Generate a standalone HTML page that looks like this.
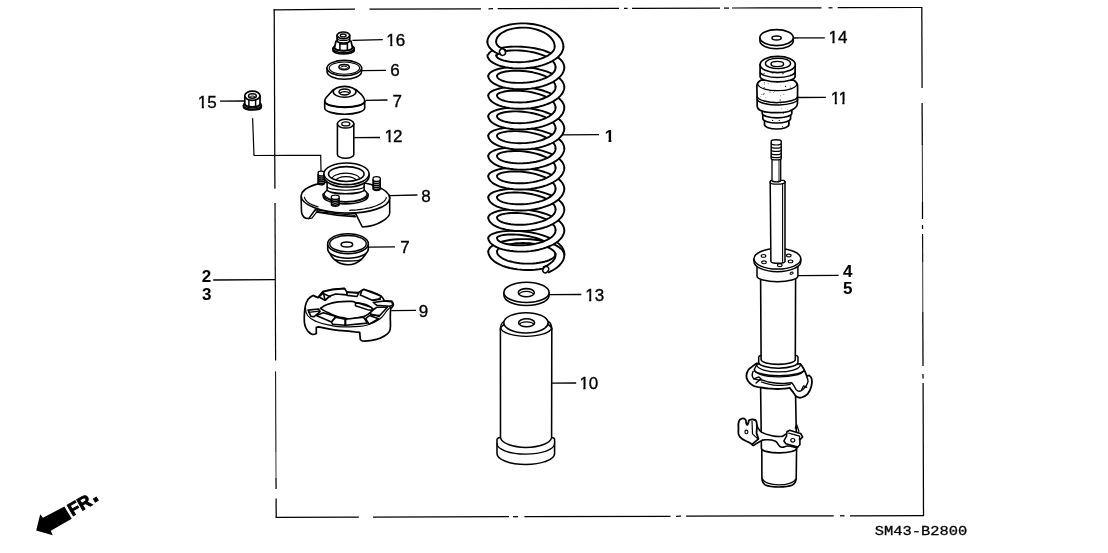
<!DOCTYPE html>
<html><head><meta charset="utf-8"><title>SM43-B2800</title>
<style>html,body{margin:0;padding:0;background:#fff;}svg{display:block;will-change:transform;}</style>
</head><body>
<svg width="1108" height="553" viewBox="0 0 1108 553">
<rect width="1108" height="553" fill="#fff"/>
<g id="frame"><line x1="273.6" y1="9.9" x2="355.0" y2="9.2" stroke="#000" stroke-width="1.25"/>
<line x1="369.5" y1="9.1" x2="481.0" y2="8.8" stroke="#000" stroke-width="1.25"/>
<line x1="488.5" y1="8.8" x2="493.0" y2="8.7" stroke="#000" stroke-width="1.25"/>
<line x1="497.7" y1="8.7" x2="619.0" y2="8.4" stroke="#000" stroke-width="1.25"/>
<line x1="624.0" y1="8.4" x2="627.6" y2="8.3" stroke="#000" stroke-width="1.25"/>
<line x1="632.0" y1="8.3" x2="720.0" y2="8.1" stroke="#000" stroke-width="1.25"/>
<line x1="724.0" y1="8.1" x2="729.0" y2="8.1" stroke="#000" stroke-width="1.25"/>
<line x1="732.0" y1="8.0" x2="821.5" y2="7.8" stroke="#000" stroke-width="1.25"/>
<line x1="828.5" y1="7.8" x2="832.5" y2="7.8" stroke="#000" stroke-width="1.25"/>
<line x1="837.7" y1="7.7" x2="922.3" y2="7.5" stroke="#000" stroke-width="1.25"/>
<line x1="921.8" y1="7.5" x2="922.1" y2="88.0" stroke="#000" stroke-width="1.25"/>
<line x1="922.1" y1="103.0" x2="922.3" y2="145.0" stroke="#000" stroke-width="1.25"/>
<line x1="922.3" y1="145.0" x2="922.5" y2="202.0" stroke="#000" stroke-width="0.85"/>
<line x1="922.5" y1="202.0" x2="922.5" y2="219.0" stroke="#000" stroke-width="1.25"/>
<line x1="922.5" y1="225.0" x2="922.5" y2="229.0" stroke="#000" stroke-width="1.25"/>
<line x1="922.6" y1="234.0" x2="922.7" y2="262.0" stroke="#000" stroke-width="1.1"/>
<line x1="922.7" y1="262.0" x2="922.8" y2="312.0" stroke="#000" stroke-width="0.8"/>
<line x1="922.8" y1="312.0" x2="923.0" y2="366.0" stroke="#000" stroke-width="1.25"/>
<line x1="923.0" y1="374.0" x2="923.0" y2="378.5" stroke="#000" stroke-width="1.25"/>
<line x1="923.1" y1="383.0" x2="923.5" y2="516.0" stroke="#000" stroke-width="1.25"/>
<line x1="275.6" y1="517.3" x2="358.8" y2="517.1" stroke="#000" stroke-width="1.25"/>
<line x1="373.0" y1="517.0" x2="509.0" y2="516.7" stroke="#000" stroke-width="1.25"/>
<line x1="513.0" y1="516.7" x2="518.0" y2="516.7" stroke="#000" stroke-width="1.25"/>
<line x1="524.4" y1="516.6" x2="670.5" y2="516.3" stroke="#000" stroke-width="1.25"/>
<line x1="676.0" y1="516.3" x2="681.0" y2="516.2" stroke="#000" stroke-width="1.25"/>
<line x1="686.0" y1="516.2" x2="833.7" y2="515.8" stroke="#000" stroke-width="1.25"/>
<line x1="840.0" y1="515.8" x2="844.5" y2="515.8" stroke="#000" stroke-width="1.25"/>
<line x1="850.0" y1="515.8" x2="924.0" y2="515.6" stroke="#000" stroke-width="1.25"/>
<line x1="274.2" y1="9.3" x2="274.9" y2="188.7" stroke="#000" stroke-width="1.25"/>
<line x1="275.0" y1="203.0" x2="275.6" y2="360.5" stroke="#000" stroke-width="1.2"/>
<line x1="275.6" y1="371.4" x2="275.9" y2="452.0" stroke="#000" stroke-width="1.0"/>
<line x1="275.9" y1="452.0" x2="276.0" y2="478.0" stroke="#000" stroke-width="0.8"/>
<line x1="276.0" y1="478.0" x2="276.1" y2="489.0" stroke="#000" stroke-width="1.25"/>
<line x1="276.1" y1="498.4" x2="276.2" y2="517.6" stroke="#000" stroke-width="1.25"/></g>
<g id="labels" font-family="'Liberation Sans', Arial, Helvetica, sans-serif" fill="#000" stroke="#000" stroke-width="0.35" opacity="0.999"><clipPath id="lc1"><rect x="384.30" y="28.80" width="22.91" height="14.42"/><rect x="390.27" y="42.32" width="2.10" height="4.47"/><rect x="396.36" y="42.32" width="11.46" height="5.47"/></clipPath><text x="386.3" y="45.8" font-size="17" font-weight="normal" clip-path="url(#lc1)">16</text>
<text x="390.3" y="76.4" font-size="17" font-weight="normal">6</text>
<text x="392.5" y="106.9" font-size="17" font-weight="normal">7</text>
<clipPath id="lc2"><rect x="382.60" y="125.10" width="20.91" height="14.42"/><rect x="388.57" y="138.62" width="2.10" height="4.47"/><rect x="393.66" y="138.62" width="10.46" height="5.47"/></clipPath><text x="384.59999999999997" y="142.1" font-size="17" font-weight="normal" letter-spacing="-1.0" clip-path="url(#lc2)">12</text>
<text x="421.3" y="201.6" font-size="17" font-weight="normal">8</text>
<text x="400.2" y="252.6" font-size="17" font-weight="normal">7</text>
<text x="418.8" y="316.8" font-size="17" font-weight="normal">9</text>
<clipPath id="lc3"><rect x="195.80" y="91.10" width="22.91" height="14.42"/><rect x="201.77" y="104.62" width="2.10" height="4.47"/><rect x="207.86" y="104.62" width="11.46" height="5.47"/></clipPath><text x="197.8" y="108.1" font-size="17" font-weight="normal" clip-path="url(#lc3)">15</text>
<text x="201.7" y="281.7" font-size="17" font-weight="bold" stroke-width="0.05">2</text>
<text x="201.9" y="300.1" font-size="17" font-weight="bold" stroke-width="0.05">3</text>
<clipPath id="lc4"><rect x="602.80" y="124.80" width="13.46" height="13.91"/><rect x="608.46" y="137.82" width="2.93" height="4.99"/></clipPath><text x="604.8" y="141.8" font-size="17" font-weight="bold" stroke-width="0.05" clip-path="url(#lc4)">1</text>
<clipPath id="lc5"><rect x="583.20" y="284.20" width="22.91" height="14.42"/><rect x="589.17" y="297.73" width="2.10" height="4.47"/><rect x="595.26" y="297.73" width="11.46" height="5.47"/></clipPath><text x="585.2" y="301.2" font-size="17" font-weight="normal" clip-path="url(#lc5)">13</text>
<clipPath id="lc6"><rect x="577.40" y="372.20" width="22.91" height="14.42"/><rect x="583.37" y="385.73" width="2.10" height="4.47"/><rect x="589.46" y="385.73" width="11.46" height="5.47"/></clipPath><text x="579.4" y="389.2" font-size="17" font-weight="normal" clip-path="url(#lc6)">10</text>
<clipPath id="lc7"><rect x="826.50" y="26.40" width="22.91" height="14.42"/><rect x="832.47" y="39.92" width="2.10" height="4.47"/><rect x="838.56" y="39.92" width="11.46" height="5.47"/></clipPath><text x="828.5" y="43.4" font-size="17" font-weight="normal" clip-path="url(#lc7)">14</text>
<clipPath id="lc8"><rect x="828.80" y="86.90" width="19.19" height="14.42"/><rect x="834.77" y="100.42" width="2.10" height="4.47"/><rect x="842.36" y="100.42" width="2.10" height="4.47"/></clipPath><text x="830.8000000000001" y="103.9" font-size="17" font-weight="normal" letter-spacing="-0.6" clip-path="url(#lc8)">11</text>
<text x="842.9" y="276.6" font-size="17" font-weight="bold" stroke-width="0.05">4</text>
<text x="842.9" y="293.7" font-size="17" font-weight="bold" stroke-width="0.05">5</text></g>
<g id="leaders"><line x1="352.4" y1="40.3" x2="382.8" y2="39.6" stroke="#000" stroke-width="1.3"/>
<line x1="362.0" y1="70.6" x2="386.0" y2="70.3" stroke="#000" stroke-width="1.3"/>
<line x1="365.5" y1="100.3" x2="387.5" y2="100.0" stroke="#000" stroke-width="1.3"/>
<line x1="354.3" y1="137.7" x2="380.0" y2="137.5" stroke="#000" stroke-width="1.3"/>
<line x1="389.9" y1="195.7" x2="417.4" y2="195.0" stroke="#000" stroke-width="1.3"/>
<line x1="369.0" y1="247.1" x2="395.0" y2="246.9" stroke="#000" stroke-width="1.3"/>
<line x1="391.3" y1="310.6" x2="416.0" y2="310.4" stroke="#000" stroke-width="1.3"/>
<line x1="220.0" y1="101.2" x2="244.0" y2="101.0" stroke="#000" stroke-width="1.3"/>
<line x1="213.2" y1="280.0" x2="275.0" y2="279.7" stroke="#000" stroke-width="1.3"/>
<line x1="561.7" y1="134.9" x2="599.0" y2="134.7" stroke="#000" stroke-width="1.3"/>
<line x1="549.5" y1="294.7" x2="581.3" y2="294.5" stroke="#000" stroke-width="1.3"/>
<line x1="551.6" y1="383.2" x2="576.2" y2="383.0" stroke="#000" stroke-width="1.3"/>
<line x1="794.0" y1="38.0" x2="824.8" y2="37.8" stroke="#000" stroke-width="1.3"/>
<line x1="797.9" y1="97.5" x2="825.9" y2="97.3" stroke="#000" stroke-width="1.3"/>
<line x1="797.5" y1="275.6" x2="838.6" y2="275.4" stroke="#000" stroke-width="1.3"/>
<polyline points="252.6,118.3 254,155.5 320.7,155.3 321,171" fill="none" stroke="#000" stroke-width="1.2"/></g>
<g id="fr"><polygon points="36.2,530.5 40.2,514.3 42.9,517.8 64.4,506.4 71.7,518.8 50.8,530.8 52.7,535.2" fill="#000"/><text transform="translate(72.3,516.6) rotate(-30)" font-family="'Liberation Sans', Arial, sans-serif" font-weight="bold" font-size="18" fill="#000" stroke="#000" stroke-width="0.9">FR<tspan dy="-1.2" dx="1.4" font-size="25">.</tspan></text></g>
<text x="874.7" y="535.4" font-family="'Liberation Mono', 'Courier New', monospace" font-size="13.4" textLength="92.5" lengthAdjust="spacingAndGlyphs" fill="#000" stroke="#000" stroke-width="0.3">SM43-B2800</text>
<g id="p6"><path d="M327.0,68.1 L327.0,71.5 A17.3,7.7 0 0 0 361.6,71.5 L361.6,68.1 Z" fill="#fff" stroke="#000" stroke-width="1.55" stroke-linejoin="round" stroke-linecap="round" /><ellipse cx="344.3" cy="68.1" rx="17.3" ry="7.7" fill="#fff" stroke="#000" stroke-width="1.55" /><ellipse cx="344.4" cy="68.1" rx="15.2" ry="6.1" fill="#fff" stroke="#000" stroke-width="1.1" /><ellipse cx="344.1" cy="67.1" rx="5.2" ry="2.7" fill="#fff" stroke="#000" stroke-width="1.55" /><ellipse cx="344.1" cy="67.6" rx="3.3" ry="1.5" fill="#fff" stroke="#000" stroke-width="1.0" /></g>
<g id="p16"><path d="M333.0,48.6 L333.0,50.6 A10.6,3.4 0 0 0 354.2,50.6 L354.2,48.6 Z" fill="#fff" stroke="#000" stroke-width="1.7" stroke-linejoin="round" stroke-linecap="round" /><ellipse cx="343.6" cy="48.6" rx="10.6" ry="4.2" fill="#fff" stroke="#000" stroke-width="1.7" /><path d="M334.2,47.6 A9.4,3.4 0 0 0 353.0,47.6" fill="none" stroke="#000" stroke-width="1.3" stroke-linejoin="round" stroke-linecap="round" /><path d="M334.6,47.6 L336.0,41.0 L351.0,41.0 L352.4,47.6 A8.9,3.0 0 0 1 334.6,47.6 Z" fill="#fff" stroke="#000" stroke-width="1.7" stroke-linejoin="round" stroke-linecap="round" /><path d="M339.9,43.0 L339.9,50.4 M347.4,43.0 L347.4,50.4" fill="none" stroke="#000" stroke-width="1.5" stroke-linejoin="round" stroke-linecap="round" /><path d="M339.9,44.0 L347.4,44.0" fill="none" stroke="#000" stroke-width="1.4" stroke-linejoin="round" stroke-linecap="round" /><path d="M337.1,35.3 L337.1,40.6 A6.3,2.4 0 0 0 349.7,40.6 L349.7,35.3 Z" fill="#fff" stroke="#000" stroke-width="1.7" stroke-linejoin="round" stroke-linecap="round" /><path d="M337.1,38.2 A6.3,2.2 0 0 0 349.7,38.2" fill="none" stroke="#000" stroke-width="1.2" stroke-linejoin="round" stroke-linecap="round" /><ellipse cx="343.4" cy="35.3" rx="6.3" ry="3.3" fill="#fff" stroke="#000" stroke-width="1.7" /><ellipse cx="343.2" cy="35.4" rx="2.9" ry="1.4" fill="#fff" stroke="#000" stroke-width="1.3" /></g>
<g id="p7a"><path d="M324.7,101.0 L324.7,108.0 A20.0,6.2 0 0 0 364.7,108.0 L364.7,101.0 Z" fill="#fff" stroke="#000" stroke-width="1.6" stroke-linejoin="round" stroke-linecap="round" /><path d="M324.7,101.4 C324.7,99.6 325.2,98.6 326.4,97.2 L333.4,89.6 L356.0,89.6 L362.0,95.2 C363.8,97.2 364.7,99.0 364.7,101.4 A20.0,6.0 0 0 1 324.7,101.4 Z" fill="#fff" stroke="#000" stroke-width="1.6" stroke-linejoin="round" stroke-linecap="round" /><path d="M324.7,101.0 A20.0,6.0 0 0 0 364.7,101.0" fill="none" stroke="#000" stroke-width="1.5" stroke-linejoin="round" stroke-linecap="round" /><ellipse cx="344.6" cy="91.8" rx="11.4" ry="5.4" fill="#fff" stroke="#000" stroke-width="1.6" /><ellipse cx="344.6" cy="91.9" rx="5.6" ry="3.0" fill="#fff" stroke="#000" stroke-width="1.5" /><path d="M340.4,93.0 A4.4,1.7 0 0 1 349.0,93.0" fill="none" stroke="#000" stroke-width="1.2" stroke-linejoin="round" stroke-linecap="round" /></g>
<g id="p12"><path d="M337.4,123.7 L337.4,154.4 A8.2,3.8 0 0 0 353.8,154.4 L353.8,123.7 Z" fill="#fff" stroke="#000" stroke-width="1.55" stroke-linejoin="round" stroke-linecap="round" /><ellipse cx="345.6" cy="123.7" rx="8.2" ry="4.4" fill="#fff" stroke="#000" stroke-width="1.55" /><ellipse cx="345.8" cy="123.9" rx="4.0" ry="2.0" fill="#fff" stroke="#000" stroke-width="1.3" /></g>
<g id="p15"><path d="M243.5,105.4 L243.5,107.0 A8.9,3.0 0 0 0 261.3,107.0 L261.3,105.4 Z" fill="#fff" stroke="#000" stroke-width="1.7" stroke-linejoin="round" stroke-linecap="round" /><ellipse cx="252.4" cy="105.4" rx="8.9" ry="4.0" fill="#fff" stroke="#000" stroke-width="1.7" /><path d="M244.4,104.6 A8.0,3.2 0 0 0 260.4,104.6" fill="none" stroke="#000" stroke-width="1.2" stroke-linejoin="round" stroke-linecap="round" /><path d="M244.8,96.0 L244.8,103.8 A7.6,3.0 0 0 0 260.0,103.8 L260.0,96.0 Z" fill="#fff" stroke="#000" stroke-width="1.7" stroke-linejoin="round" stroke-linecap="round" /><path d="M248.9,100.0 L248.9,106.4 M255.6,100.2 L255.6,106.4" fill="none" stroke="#000" stroke-width="1.5" stroke-linejoin="round" stroke-linecap="round" /><ellipse cx="252.4" cy="95.8" rx="7.6" ry="4.6" fill="#fff" stroke="#000" stroke-width="1.7" /><ellipse cx="252.4" cy="96.0" rx="3.9" ry="2.2" fill="#fff" stroke="#000" stroke-width="1.5" /><path d="M249.6,96.8 A3.0,1.2 0 0 1 255.2,96.8" fill="none" stroke="#000" stroke-width="1.0" stroke-linejoin="round" stroke-linecap="round" /></g>
<g id="p8"><path d="M301.1,197.0 L301.5,212.1 C302,216 305,218.5 308.7,218.6 L315.2,209.7 L355.7,213.6 L362.3,227 C370,226.5 378,224 381.8,221.5 C386,219 389.7,216 389.7,212.9 L389.7,197.0 Z" fill="#fff" stroke="#000" stroke-width="1.55" stroke-linejoin="round" stroke-linecap="round" /><path d="M308.7,218.6 L311.9,218.2 L317.6,210.9 M317.2,211.6 L355.0,215.3" fill="none" stroke="#000" stroke-width="1.2" stroke-linejoin="round" stroke-linecap="round" /><ellipse cx="345.4" cy="197.0" rx="44.3" ry="16.0" fill="#fff" stroke="#000" stroke-width="1.6" transform="rotate(1.5 345.4 197)"/><path d="M386.2,197.7 L386.0,198.5 L385.6,199.3 L385.1,200.1 L384.4,200.9 L383.7,201.6 L382.8,202.3 L381.7,203.0 L380.6,203.7 L379.3,204.4 L377.9,205.0 L376.4,205.7 L374.8,206.2 L373.1,206.8 L371.3,207.3 L369.4,207.8 L367.5,208.2 L365.4,208.7 L363.3,209.0 L361.2,209.3 L358.9,209.6 L356.7,209.9 L354.4,210.1 L352.0,210.2 L349.7,210.3" fill="none" stroke="#000" stroke-width="1.2" stroke-linejoin="round" stroke-linecap="round" /><path d="M318.0,206.9 L316.5,206.4 L315.1,205.9 L313.8,205.4 L312.5,204.9 L311.3,204.3 L310.3,203.8 L309.2,203.2 L308.3,202.5 L307.5,201.9 L306.8,201.3 L306.2,200.6 L305.6,200.0 L305.2,199.3 L304.9,198.6 L304.6,198.0 L304.5,197.3" fill="none" stroke="#000" stroke-width="1.2" stroke-linejoin="round" stroke-linecap="round" /><path d="M316.4,212.0 Q336,215.8 355.4,216.8" fill="none" stroke="#000" stroke-width="1.5" stroke-linejoin="round" stroke-linecap="round" /><path d="M318.1,172.7 L318.1,183.3 A3.2,1.5 0 0 0 324.6,183.3 L324.6,172.7 A3.2,1.5 0 0 0 318.1,172.7 Z" fill="#fff" stroke="#000" stroke-width="1.3" stroke-linejoin="round" stroke-linecap="round" /><path d="M318.1,174.6 A3.2,1.5 0 0 0 324.6,174.6" fill="none" stroke="#000" stroke-width="1.5" stroke-linejoin="round" stroke-linecap="round" /><path d="M318.1,176.5 A3.2,1.5 0 0 0 324.6,176.5" fill="none" stroke="#000" stroke-width="1.5" stroke-linejoin="round" stroke-linecap="round" /><path d="M318.1,178.4 A3.2,1.5 0 0 0 324.6,178.4" fill="none" stroke="#000" stroke-width="1.5" stroke-linejoin="round" stroke-linecap="round" /><path d="M318.1,180.3 A3.2,1.5 0 0 0 324.6,180.3" fill="none" stroke="#000" stroke-width="1.5" stroke-linejoin="round" stroke-linecap="round" /><path d="M318.1,182.2 A3.2,1.5 0 0 0 324.6,182.2" fill="none" stroke="#000" stroke-width="1.5" stroke-linejoin="round" stroke-linecap="round" /><path d="M373.1,178.2 L373.1,189.1 A3.6,1.5 0 0 0 380.3,189.1 L380.3,178.2 A3.6,1.5 0 0 0 373.1,178.2 Z" fill="#fff" stroke="#000" stroke-width="1.3" stroke-linejoin="round" stroke-linecap="round" /><path d="M373.1,180.1 A3.6,1.5 0 0 0 380.3,180.1" fill="none" stroke="#000" stroke-width="1.5" stroke-linejoin="round" stroke-linecap="round" /><path d="M373.1,182.1 A3.6,1.5 0 0 0 380.3,182.1" fill="none" stroke="#000" stroke-width="1.5" stroke-linejoin="round" stroke-linecap="round" /><path d="M373.1,184.0 A3.6,1.5 0 0 0 380.3,184.0" fill="none" stroke="#000" stroke-width="1.5" stroke-linejoin="round" stroke-linecap="round" /><path d="M373.1,186.0 A3.6,1.5 0 0 0 380.3,186.0" fill="none" stroke="#000" stroke-width="1.5" stroke-linejoin="round" stroke-linecap="round" /><path d="M373.1,187.9 A3.6,1.5 0 0 0 380.3,187.9" fill="none" stroke="#000" stroke-width="1.5" stroke-linejoin="round" stroke-linecap="round" /><path d="M323.2,194.0 L323.2,196.2 A22.4,7.7 0 0 0 368.0,196.2 L368.0,194.0 Z" fill="#fff" stroke="#000" stroke-width="1.55" stroke-linejoin="round" stroke-linecap="round" /><path d="M323.2,194.5 C324,192.5 326.5,191.3 327.1,190.0 L364.1,189.6 C365,191.2 367.3,192.5 368,194.5 A22.4,7.6 0 0 1 323.2,194.5 Z" fill="#fff" stroke="#000" stroke-width="1.55" stroke-linejoin="round" stroke-linecap="round" /><path d="M324.2,193.6 A21.4,8.0 0 0 0 367.0,193.6" fill="none" stroke="#000" stroke-width="1.1" stroke-linejoin="round" stroke-linecap="round" /><path d="M327.1,176.0 L327.1,189.8 A18.5,4.0 0 0 0 364.1,189.8 L364.1,176.0 Z" fill="#fff" stroke="#000" stroke-width="1.55" stroke-linejoin="round" stroke-linecap="round" /><path d="M327.1,186.6 A18.5,3.6 0 0 0 364.1,186.6" fill="none" stroke="#000" stroke-width="1.1" stroke-linejoin="round" stroke-linecap="round" /><path d="M323.9,173.8 L323.9,176.3 A22.6,10.8 0 0 0 369.1,176.3 L369.1,173.8 Z" fill="#fff" stroke="#000" stroke-width="1.55" stroke-linejoin="round" stroke-linecap="round" /><ellipse cx="346.5" cy="173.8" rx="22.6" ry="10.8" fill="#fff" stroke="#000" stroke-width="1.55" /><ellipse cx="346.3" cy="174.0" rx="17.8" ry="7.4" fill="#fff" stroke="#000" stroke-width="1.55" /><clipPath id="c8"><ellipse cx="346.3" cy="174.0" rx="17.8" ry="7.4"/></clipPath><g clip-path="url(#c8)"><ellipse cx="345.8" cy="179.2" rx="14.0" ry="6.0" fill="none" stroke="#000" stroke-width="1.2" /><ellipse cx="346.0" cy="181.2" rx="10.5" ry="4.6" fill="none" stroke="#000" stroke-width="1.2" /><path d="M329,176.5 A17.5,6.8 0 0 0 364,176.5" fill="none" stroke="#000" stroke-width="1.0" stroke-linejoin="round" stroke-linecap="round" /></g><path d="M331.4,196.3 L331.4,205.0 A3.9,1.5 0 0 0 339.1,205.0 L339.1,196.3 A3.9,1.5 0 0 0 331.4,196.3 Z" fill="#fff" stroke="#000" stroke-width="1.3" stroke-linejoin="round" stroke-linecap="round" /><path d="M331.4,198.2 A3.9,1.5 0 0 0 339.1,198.2" fill="none" stroke="#000" stroke-width="1.5" stroke-linejoin="round" stroke-linecap="round" /><path d="M331.4,200.1 A3.9,1.5 0 0 0 339.1,200.1" fill="none" stroke="#000" stroke-width="1.5" stroke-linejoin="round" stroke-linecap="round" /><path d="M331.4,202.0 A3.9,1.5 0 0 0 339.1,202.0" fill="none" stroke="#000" stroke-width="1.5" stroke-linejoin="round" stroke-linecap="round" /><path d="M331.4,203.9 A3.9,1.5 0 0 0 339.1,203.9" fill="none" stroke="#000" stroke-width="1.5" stroke-linejoin="round" stroke-linecap="round" /></g>
<g id="p7b"><path d="M328.6,250 C330.0,255 332.5,258 334.9,259.9 C339,263.6 343,264.7 347.8,264.8 C352.6,264.7 357,263.4 361.5,259.3 C364,257 366.2,254.5 367.6,250 Z" fill="#fff" stroke="#000" stroke-width="1.6" stroke-linejoin="round" stroke-linecap="round" /><path d="M335.3,259.6 A13.4,2.2 0 0 0 361.0,259.2" fill="none" stroke="#000" stroke-width="1.3" stroke-linejoin="round" stroke-linecap="round" /><path d="M327.7,243.7 L327.7,249.0 A20.3,9.3 0 0 0 368.3,249.0 L368.3,243.7 Z" fill="#fff" stroke="#000" stroke-width="1.6" stroke-linejoin="round" stroke-linecap="round" /><ellipse cx="348.0" cy="243.7" rx="20.3" ry="10.0" fill="#fff" stroke="#000" stroke-width="1.6" /><ellipse cx="348.0" cy="243.7" rx="18.3" ry="8.2" fill="#fff" stroke="#000" stroke-width="1.4" /><ellipse cx="346.9" cy="244.5" rx="5.8" ry="2.5" fill="#fff" stroke="#000" stroke-width="1.5" /></g>
<g id="p9"><path d="M313.0,295.4 C313.0,295.4 309.8,297.0 308.1,299.2 C306.3,301.8 306.1,302.6 305.4,305.7 C304.4,310.5 304.5,311.7 304.3,316.6 C304.2,320.5 304.0,321.4 304.9,325.3 C305.5,327.9 305.9,328.5 307.6,330.7 C309.2,332.6 309.6,333.4 311.9,334.2 C313.8,334.8 316.3,333.4 316.3,333.4 L316.3,327.4 L318.7,326.9 C318.7,326.9 326.3,328.7 332.6,329.6 C341.3,330.8 344.7,330.8 352.1,331.6 C353.4,331.7 353.6,331.7 354.9,331.9 C357.1,332.1 359.7,332.4 359.7,332.4 L360.3,339.4 C360.3,339.4 361.2,340.9 362.5,341.0 C366.1,341.4 367.3,341.1 371.1,340.5 C375.1,339.8 376.1,339.8 379.8,338.3 C383.5,336.8 384.4,336.5 387.4,333.9 C389.2,332.5 389.8,331.9 390.1,329.6 C391.1,323.8 390.1,322.4 390.3,316.6 C390.3,312.9 390.7,308.4 390.7,308.4 C390.7,308.4 391.5,308.0 392.0,307.3 C392.8,306.2 393.5,306.0 393.4,304.6 C393.3,303.0 391.8,301.4 391.8,301.4 L384.2,300.8 C384.2,300.8 383.4,298.4 382.0,297.0 C379.9,295.1 379.2,294.9 376.6,293.8 C370.9,291.4 363.5,289.4 363.5,289.4 L358.1,292.7 L346.2,292.1 L344.5,288.3 C344.5,288.3 337.9,288.6 332.6,289.4 C328.1,290.1 322.8,291.6 322.8,291.6 L317.9,297.6 L313.0,295.4 Z" fill="#fff" stroke="#000" stroke-width="1.7" stroke-linejoin="round" stroke-linecap="round" /><path d="M305.4,307.3 C305.4,307.3 305.3,312.5 307.6,315.5 C310.5,319.2 311.9,319.6 316.3,321.5 C323.3,324.4 325.1,324.4 332.6,325.8 C338.1,326.8 339.4,326.7 345.1,326.9 C349.5,327.0 350.5,326.9 354.9,326.6 C360.5,326.1 361.9,326.7 367.3,325.0 C373.3,323.2 374.8,322.7 379.8,319.0 C384.1,315.8 383.9,313.9 387.4,310.1 C388.7,308.7 390.5,307.3 390.5,307.3" fill="none" stroke="#000" stroke-width="1.2" stroke-linejoin="round" stroke-linecap="round" /><path d="M320.6,308.4 C320.6,308.4 324.0,305.8 327.1,304.6 C331.9,302.9 333.0,302.6 338.0,301.9 C344.3,301.1 346.5,301.3 352.1,301.4 C353.4,301.4 353.6,301.9 354.9,302.2 C359.4,303.3 361.0,303.0 365.7,304.6 C369.0,305.8 369.7,306.6 372.4,308.4 C373.3,309.0 373.9,310.1 373.9,310.1" fill="none" stroke="#000" stroke-width="1.6" stroke-linejoin="round" stroke-linecap="round" /><path d="M320.6,308.4 C320.6,308.4 322.9,310.1 325.0,311.1 C329.8,313.5 330.8,314.3 335.8,316.0 C340.1,317.5 341.2,317.3 345.6,318.2 C347.8,318.6 348.3,319.2 350.5,319.0 C356.5,318.4 357.9,318.4 363.5,316.6 C366.8,315.5 367.2,314.6 370.1,312.8 C371.9,311.6 373.9,309.8 373.9,309.8" fill="none" stroke="#000" stroke-width="1.6" stroke-linejoin="round" stroke-linecap="round" /><path d="M355.4,303.5 L358.1,303.0 L371.1,307.3 L373.3,310.6 L369.0,310.1 L355.4,305.7 Z" fill="#fff" stroke="#000" stroke-width="1.5" stroke-linejoin="round" stroke-linecap="round" /><path d="M308.1,310.1 L318.5,309.0 L320.1,311.7 L314.1,316.6 L310.9,316.4 Z" fill="#fff" stroke="#000" stroke-width="1.6" stroke-linejoin="round" stroke-linecap="round" /><path d="M316.3,315.5 L323.3,312.8 L335.8,316.6 L331.5,322.0 Z" fill="#fff" stroke="#000" stroke-width="1.6" stroke-linejoin="round" stroke-linecap="round" /><path d="M331.5,322.0 L335.8,317.1 L345.1,319.3 L345.1,325.3 L332.6,324.2 Z" fill="#fff" stroke="#000" stroke-width="1.6" stroke-linejoin="round" stroke-linecap="round" /><path d="M319.0,297.0 L323.3,293.2 L329.9,295.9 L325.0,300.3 Z" fill="#fff" stroke="#000" stroke-width="1.6" stroke-linejoin="round" stroke-linecap="round" /><path d="M325.0,300.3 L329.9,295.9 L335.8,294.0 L346.7,294.9 L346.9,292.1 L344.5,288.6 L332.6,289.6 L323.3,291.8 Z" fill="#fff" stroke="#000" stroke-width="1.6" stroke-linejoin="round" stroke-linecap="round" /><path d="M346.7,292.1 L358.7,293.2 L357.0,296.5 L347.3,295.4 Z" fill="#fff" stroke="#000" stroke-width="1.6" stroke-linejoin="round" stroke-linecap="round" /><path d="M361.9,290.5 L363.8,289.6 L380.9,295.9 L379.8,298.7 L372.2,300.3 L360.3,294.9 Z" fill="#fff" stroke="#000" stroke-width="1.6" stroke-linejoin="round" stroke-linecap="round" /><path d="M373.3,302.5 L384.2,301.0 L391.8,301.6 L392.9,305.2 L389.6,306.3 L376.6,305.2 Z" fill="#fff" stroke="#000" stroke-width="1.6" stroke-linejoin="round" stroke-linecap="round" /><path d="M374.4,309.0 L376.6,307.3 L387.4,307.3 L379.8,315.5 L371.1,314.9 L370.1,312.8 Z" fill="#fff" stroke="#000" stroke-width="1.6" stroke-linejoin="round" stroke-linecap="round" /><path d="M369.5,315.5 L378.7,318.7 L369.0,324.2 L365.7,318.7 Z" fill="#fff" stroke="#000" stroke-width="1.6" stroke-linejoin="round" stroke-linecap="round" /><path d="M345.6,319.3 L363.5,317.1 L367.3,323.1 L345.6,325.3 Z" fill="#fff" stroke="#000" stroke-width="1.6" stroke-linejoin="round" stroke-linecap="round" /><path d="M308.7,312.4 L319.1,311.1M324.4,294.0 L330.6,296.8M372.4,300.5 L380.4,299.2M370.6,313.9 L379.3,316.6" fill="none" stroke="#000" stroke-width="1.4" stroke-linejoin="round" stroke-linecap="round" /></g>
<g id="p13"><path d="M503.9,292.4 L503.9,295.3 A22.6,10.1 0 0 0 549.1,295.3 L549.1,292.4 Z" fill="#fff" stroke="#000" stroke-width="1.55" stroke-linejoin="round" stroke-linecap="round" /><ellipse cx="526.5" cy="292.4" rx="22.6" ry="10.1" fill="#fff" stroke="#000" stroke-width="1.55" /><ellipse cx="526.3" cy="292.7" rx="8.0" ry="4.1" fill="#fff" stroke="#000" stroke-width="1.55" /><clipPath id="c13"><ellipse cx="526.3" cy="292.7" rx="8.0" ry="4.1"/></clipPath><g clip-path="url(#c13)"><ellipse cx="526.3" cy="295.0" rx="7.6" ry="3.6" fill="none" stroke="#000" stroke-width="1.2" /></g></g>
<g id="p10"><path d="M497.0,439.5 L497.0,453.4 A28.8,11.0 0 0 0 554.6,453.4 L554.6,439.5 Q554.4,437.6 551.6,437.4 L500.5,437.4 Q497.2,437.6 497.0,439.5 Z" fill="#fff" stroke="#000" stroke-width="1.55" stroke-linejoin="round" stroke-linecap="round" /><path d="M497.0,443.6 A28.8,10.6 0 0 0 554.6,443.6" fill="none" stroke="#000" stroke-width="1.3" stroke-linejoin="round" stroke-linecap="round" /><path d="M500.4,328.5 L500.5,437.5 A25.6,10.6 0 0 0 551.6,437.5 L551.8,328.5 A25.8,9.0 0 0 0 500.4,328.5 Z" fill="#fff" stroke="#000" stroke-width="1.55" stroke-linejoin="round" stroke-linecap="round" /><path d="M500.4,329.5 C500.4,324 502,322.5 503.9,321.5 M551.8,329.5 C551.8,324 550.2,322.5 548.2,321.5" fill="none" stroke="#000" stroke-width="1.4" stroke-linejoin="round" stroke-linecap="round" /><ellipse cx="526.0" cy="322.8" rx="22.2" ry="10.1" fill="#fff" stroke="#000" stroke-width="1.55" /><path d="M500.6,328.0 A25.6,9.2 0 0 0 551.6,328.0" fill="none" stroke="#000" stroke-width="1.3" stroke-linejoin="round" stroke-linecap="round" /><ellipse cx="526.6" cy="322.8" rx="8.0" ry="4.0" fill="#fff" stroke="#000" stroke-width="1.55" /><clipPath id="c10"><ellipse cx="526.6" cy="322.8" rx="8.0" ry="4.0"/></clipPath><g clip-path="url(#c10)"><ellipse cx="526.6" cy="325.2" rx="7.4" ry="3.4" fill="none" stroke="#000" stroke-width="1.2" /></g></g>
<g id="p14"><path d="M759.9,37.6 L759.9,40.8 A16.7,8.0 0 0 0 793.3,40.8 L793.3,37.6 Z" fill="#fff" stroke="#000" stroke-width="1.6" stroke-linejoin="round" stroke-linecap="round" /><ellipse cx="776.6" cy="37.6" rx="16.7" ry="8.0" fill="#fff" stroke="#000" stroke-width="1.6" /><ellipse cx="776.6" cy="37.9" rx="4.6" ry="2.0" fill="#fff" stroke="#000" stroke-width="1.5" /></g>
<g id="p11"><path d="M764.5,119.0 L764.5,124.6 A12.2,4.4 0 0 0 788.9,124.6 L788.9,119.0 Z" fill="#fff" stroke="#000" stroke-width="1.7" stroke-linejoin="round" stroke-linecap="round" /><path d="M762.8,113.0 L762.8,118.6 A13.9,4.4 0 0 0 790.6,118.6 L790.6,113.0 Z" fill="#fff" stroke="#000" stroke-width="1.7" stroke-linejoin="round" stroke-linecap="round" /><path d="M762.2,107.0 L762.2,113.2 A14.8,4.6 0 0 0 791.8,113.2 L791.8,107.0 Z" fill="#fff" stroke="#000" stroke-width="1.7" stroke-linejoin="round" stroke-linecap="round" /><path d="M756.9,85.5 L757.2,106.5 C757.8,109.0 760,110.6 762.6,111.2 A15.0,2.6 0 0 0 790.6,110.6 C794.5,109.0 797.2,106.5 797.5,103.5 L797.6,85.5 C797.4,83 795.8,81.4 793.8,80.2 L760.8,80.2 C758.6,81.4 757.1,83 756.9,85.5 Z" fill="#fff" stroke="#000" stroke-width="1.7" stroke-linejoin="round" stroke-linecap="round" /><path d="M757.3,97.0 A20.3,6.6 0 0 0 797.6,96.6" fill="none" stroke="#000" stroke-width="1.5" stroke-linejoin="round" stroke-linecap="round" /><path d="M757.6,100.2 A20.2,6.0 0 0 0 797.6,99.2" fill="none" stroke="#000" stroke-width="1.5" stroke-linejoin="round" stroke-linecap="round" /><path d="M758.0,84.6 A19.6,7.0 0 0 0 797.0,84.2" fill="none" stroke="#000" stroke-width="1.3" stroke-linejoin="round" stroke-linecap="round" /><path d="M760.1,64.5 L760.1,76.4 A17.5,5.4 0 0 0 795.1,76.4 L795.1,64.5 Z" fill="#fff" stroke="#000" stroke-width="1.7" stroke-linejoin="round" stroke-linecap="round" /><path d="M760.2,72.0 A17.5,6.0 0 0 0 795.1,72.0" fill="none" stroke="#000" stroke-width="1.4" stroke-linejoin="round" stroke-linecap="round" /><ellipse cx="777.7" cy="64.5" rx="17.6" ry="8.2" fill="#fff" stroke="#000" stroke-width="1.7" /><ellipse cx="778.0" cy="63.4" rx="12.6" ry="5.2" fill="#fff" stroke="#000" stroke-width="1.4" /><ellipse cx="777.3" cy="64.0" rx="6.3" ry="2.6" fill="#fff" stroke="#000" stroke-width="1.4" /><g fill="#000"><circle cx="782.8" cy="74.1" r="0.48"/><circle cx="772.8" cy="73.3" r="0.48"/><circle cx="761.3" cy="94.7" r="0.37"/><circle cx="763.2" cy="94.2" r="0.56"/><circle cx="764.3" cy="82.7" r="0.51"/><circle cx="793.2" cy="102.9" r="0.45"/><circle cx="794.2" cy="72.7" r="0.56"/><circle cx="764.1" cy="87.6" r="0.55"/><circle cx="766.3" cy="103.2" r="0.51"/><circle cx="773.0" cy="101.2" r="0.37"/><circle cx="783.8" cy="94.4" r="0.43"/><circle cx="780.5" cy="95.8" r="0.42"/><circle cx="787.8" cy="109.8" r="0.41"/><circle cx="780.1" cy="99.9" r="0.57"/><circle cx="785.5" cy="86.4" r="0.60"/><circle cx="764.1" cy="93.8" r="0.54"/><circle cx="765.3" cy="97.9" r="0.36"/><circle cx="783.4" cy="113.6" r="0.49"/><circle cx="790.6" cy="87.9" r="0.52"/><circle cx="780.8" cy="103.1" r="0.46"/><circle cx="789.4" cy="123.8" r="0.47"/><circle cx="783.2" cy="73.5" r="0.53"/><circle cx="782.6" cy="126.6" r="0.56"/><circle cx="770.0" cy="92.0" r="0.52"/><circle cx="760.8" cy="96.3" r="0.39"/><circle cx="764.1" cy="73.4" r="0.54"/><circle cx="764.5" cy="84.1" r="0.45"/><circle cx="790.5" cy="74.6" r="0.46"/><circle cx="779.2" cy="120.4" r="0.55"/><circle cx="790.2" cy="85.9" r="0.45"/><circle cx="772.6" cy="120.4" r="0.59"/><circle cx="768.1" cy="83.3" r="0.47"/><circle cx="780.6" cy="85.0" r="0.35"/><circle cx="774.7" cy="91.0" r="0.49"/><circle cx="793.4" cy="109.4" r="0.48"/><circle cx="781.6" cy="108.5" r="0.36"/><circle cx="773.7" cy="92.7" r="0.38"/><circle cx="782.2" cy="73.5" r="0.37"/><circle cx="771.9" cy="73.0" r="0.35"/></g></g>
<g id="p1"><path d="M487.4,41.8 L487.6,39.6 L488.4,37.5 L489.5,35.5 L491.2,33.5 L493.2,31.6 L495.7,29.9 L498.5,28.3 L501.7,26.9 L505.2,25.8 L508.9,24.8 L512.8,24.1 L516.9,23.6 L521.1,23.4 L525.4,23.4 L529.7,23.8 L533.9,24.3 L538.0,25.1 L541.9,26.2 L545.6,27.5 L549.1,29.0 L552.3,30.8 L555.1,32.7 L557.6,34.8 L559.6,37.0 L561.3,39.3 L562.4,41.7 L563.2,44.2 L563.4,46.7 L554.7,46.7 L554.5,44.7 L554.0,42.7 L553.1,40.7 L551.8,38.8 L550.2,37.0 L548.3,35.3 L546.1,33.7 L543.7,32.3 L541.0,31.1 L538.1,30.0 L535.1,29.1 L531.9,28.4 L528.7,27.9 L525.4,27.6 L522.1,27.6 L518.9,27.7 L515.7,28.1 L512.7,28.6 L509.8,29.3 L507.1,30.2 L504.7,31.3 L502.5,32.5 L500.6,33.8 L499.0,35.3 L497.7,36.8 L496.8,38.5 L496.3,40.1 L496.1,41.8 Z" fill="#fff" stroke-width="0" stroke-linejoin="round" stroke-linecap="round" stroke="none"/><path d="M487.4,41.8 L487.6,39.6 L488.4,37.5 L489.5,35.5 L491.2,33.5 L493.2,31.6 L495.7,29.9 L498.5,28.3 L501.7,26.9 L505.2,25.8 L508.9,24.8 L512.8,24.1 L516.9,23.6 L521.1,23.4 L525.4,23.4 L529.7,23.8 L533.9,24.3 L538.0,25.1 L541.9,26.2 L545.6,27.5 L549.1,29.0 L552.3,30.8 L555.1,32.7 L557.6,34.8 L559.6,37.0 L561.3,39.3 L562.4,41.7 L563.2,44.2 L563.4,46.7" fill="none" stroke="#000" stroke-width="1.9" stroke-linejoin="round" stroke-linecap="round" /><path d="M496.1,41.8 L496.3,40.1 L496.8,38.5 L497.7,36.8 L499.0,35.3 L500.6,33.8 L502.5,32.5 L504.7,31.3 L507.1,30.2 L509.8,29.3 L512.7,28.6 L515.7,28.1 L518.9,27.7 L522.1,27.6 L525.4,27.6 L528.7,27.9 L531.9,28.4 L535.1,29.1 L538.1,30.0 L541.0,31.1 L543.7,32.3 L546.1,33.7 L548.3,35.3 L550.2,37.0 L551.8,38.8 L553.1,40.7 L554.0,42.7 L554.5,44.7 L554.7,46.7" fill="none" stroke="#000" stroke-width="1.9" stroke-linejoin="round" stroke-linecap="round" /><path d="M488.3,55.2 L488.5,54.0 L489.3,52.9 L490.4,51.8 L492.1,50.8 L494.1,49.8 L496.6,49.0 L499.4,48.2 L502.6,47.6 L506.1,47.1 L509.8,46.8 L513.7,46.6 L517.8,46.6 L522.0,46.8 L526.3,47.1 L530.6,47.6 L534.8,48.3 L538.9,49.2 L542.8,50.2 L546.5,51.5 L550.0,52.8 L553.2,54.3 L556.0,55.9 L558.5,57.7 L560.5,59.5 L562.2,61.4 L563.3,63.4 L564.1,65.4 L564.3,67.4 L555.6,67.4 L555.4,65.8 L554.9,64.3 L554.0,62.7 L552.7,61.2 L551.1,59.8 L549.2,58.4 L547.0,57.1 L544.6,55.9 L541.9,54.8 L539.0,53.9 L536.0,53.0 L532.8,52.2 L529.6,51.6 L526.3,51.1 L523.0,50.7 L519.8,50.5 L516.6,50.4 L513.6,50.4 L510.7,50.5 L508.0,50.7 L505.6,51.0 L503.4,51.5 L501.5,52.0 L499.9,52.5 L498.6,53.1 L497.7,53.8 L497.2,54.5 L497.0,55.2 Z" fill="#fff" stroke-width="0" stroke-linejoin="round" stroke-linecap="round" stroke="none"/><path d="M488.3,55.2 L488.5,54.0 L489.3,52.9 L490.4,51.8 L492.1,50.8 L494.1,49.8 L496.6,49.0 L499.4,48.2 L502.6,47.6 L506.1,47.1 L509.8,46.8 L513.7,46.6 L517.8,46.6 L522.0,46.8 L526.3,47.1 L530.6,47.6 L534.8,48.3 L538.9,49.2 L542.8,50.2 L546.5,51.5 L550.0,52.8 L553.2,54.3 L556.0,55.9 L558.5,57.7 L560.5,59.5 L562.2,61.4 L563.3,63.4 L564.1,65.4 L564.3,67.4" fill="none" stroke="#000" stroke-width="1.9" stroke-linejoin="round" stroke-linecap="round" /><path d="M497.0,55.2 L497.2,54.5 L497.7,53.8 L498.6,53.1 L499.9,52.5 L501.5,52.0 L503.4,51.5 L505.6,51.0 L508.0,50.7 L510.7,50.5 L513.6,50.4 L516.6,50.4 L519.8,50.5 L523.0,50.7 L526.3,51.1 L529.6,51.6 L532.8,52.2 L536.0,53.0 L539.0,53.9 L541.9,54.8 L544.6,55.9 L547.0,57.1 L549.2,58.4 L551.1,59.8 L552.7,61.2 L554.0,62.7 L554.9,64.3 L555.4,65.8 L555.6,67.4" fill="none" stroke="#000" stroke-width="1.9" stroke-linejoin="round" stroke-linecap="round" /><path d="M488.3,76.0 L488.5,74.8 L489.3,73.6 L490.4,72.5 L492.1,71.4 L494.1,70.4 L496.6,69.5 L499.4,68.7 L502.6,68.0 L506.1,67.5 L509.8,67.1 L513.7,66.9 L517.8,66.9 L522.0,67.0 L526.3,67.3 L530.6,67.8 L534.8,68.4 L538.9,69.3 L542.8,70.3 L546.5,71.4 L550.0,72.8 L553.2,74.2 L556.0,75.8 L558.5,77.5 L560.5,79.3 L562.2,81.1 L563.3,83.1 L564.1,85.0 L564.3,87.0 L555.6,87.0 L555.4,85.5 L554.9,83.9 L554.0,82.5 L552.7,81.0 L551.1,79.6 L549.2,78.3 L547.0,77.0 L544.6,75.9 L541.9,74.8 L539.0,73.9 L536.0,73.1 L532.8,72.3 L529.6,71.8 L526.3,71.3 L523.0,71.0 L519.8,70.8 L516.6,70.7 L513.6,70.7 L510.7,70.9 L508.0,71.2 L505.6,71.5 L503.4,72.0 L501.5,72.5 L499.9,73.1 L498.6,73.8 L497.7,74.5 L497.2,75.3 L497.0,76.0 Z" fill="#fff" stroke-width="0" stroke-linejoin="round" stroke-linecap="round" stroke="none"/><path d="M488.3,76.0 L488.5,74.8 L489.3,73.6 L490.4,72.5 L492.1,71.4 L494.1,70.4 L496.6,69.5 L499.4,68.7 L502.6,68.0 L506.1,67.5 L509.8,67.1 L513.7,66.9 L517.8,66.9 L522.0,67.0 L526.3,67.3 L530.6,67.8 L534.8,68.4 L538.9,69.3 L542.8,70.3 L546.5,71.4 L550.0,72.8 L553.2,74.2 L556.0,75.8 L558.5,77.5 L560.5,79.3 L562.2,81.1 L563.3,83.1 L564.1,85.0 L564.3,87.0" fill="none" stroke="#000" stroke-width="1.9" stroke-linejoin="round" stroke-linecap="round" /><path d="M497.0,76.0 L497.2,75.3 L497.7,74.5 L498.6,73.8 L499.9,73.1 L501.5,72.5 L503.4,72.0 L505.6,71.5 L508.0,71.2 L510.7,70.9 L513.6,70.7 L516.6,70.7 L519.8,70.8 L523.0,71.0 L526.3,71.3 L529.6,71.8 L532.8,72.3 L536.0,73.1 L539.0,73.9 L541.9,74.8 L544.6,75.9 L547.0,77.0 L549.2,78.3 L551.1,79.6 L552.7,81.0 L554.0,82.5 L554.9,83.9 L555.4,85.5 L555.6,87.0" fill="none" stroke="#000" stroke-width="1.9" stroke-linejoin="round" stroke-linecap="round" /><path d="M488.3,95.5 L488.5,94.3 L489.3,93.2 L490.4,92.1 L492.1,91.1 L494.1,90.1 L496.6,89.3 L499.4,88.5 L502.6,87.9 L506.1,87.4 L509.8,87.1 L513.7,86.9 L517.8,86.9 L522.0,87.1 L526.3,87.4 L530.6,87.9 L534.8,88.6 L538.9,89.5 L542.8,90.5 L546.5,91.8 L550.0,93.1 L553.2,94.6 L556.0,96.2 L558.5,98.0 L560.5,99.8 L562.2,101.7 L563.3,103.7 L564.1,105.7 L564.3,107.7 L555.6,107.7 L555.4,106.1 L554.9,104.6 L554.0,103.0 L552.7,101.5 L551.1,100.1 L549.2,98.7 L547.0,97.4 L544.6,96.2 L541.9,95.1 L539.0,94.2 L536.0,93.3 L532.8,92.5 L529.6,91.9 L526.3,91.4 L523.0,91.0 L519.8,90.8 L516.6,90.7 L513.6,90.7 L510.7,90.8 L508.0,91.0 L505.6,91.3 L503.4,91.8 L501.5,92.3 L499.9,92.8 L498.6,93.4 L497.7,94.1 L497.2,94.8 L497.0,95.5 Z" fill="#fff" stroke-width="0" stroke-linejoin="round" stroke-linecap="round" stroke="none"/><path d="M488.3,95.5 L488.5,94.3 L489.3,93.2 L490.4,92.1 L492.1,91.1 L494.1,90.1 L496.6,89.3 L499.4,88.5 L502.6,87.9 L506.1,87.4 L509.8,87.1 L513.7,86.9 L517.8,86.9 L522.0,87.1 L526.3,87.4 L530.6,87.9 L534.8,88.6 L538.9,89.5 L542.8,90.5 L546.5,91.8 L550.0,93.1 L553.2,94.6 L556.0,96.2 L558.5,98.0 L560.5,99.8 L562.2,101.7 L563.3,103.7 L564.1,105.7 L564.3,107.7" fill="none" stroke="#000" stroke-width="1.9" stroke-linejoin="round" stroke-linecap="round" /><path d="M497.0,95.5 L497.2,94.8 L497.7,94.1 L498.6,93.4 L499.9,92.8 L501.5,92.3 L503.4,91.8 L505.6,91.3 L508.0,91.0 L510.7,90.8 L513.6,90.7 L516.6,90.7 L519.8,90.8 L523.0,91.0 L526.3,91.4 L529.6,91.9 L532.8,92.5 L536.0,93.3 L539.0,94.2 L541.9,95.1 L544.6,96.2 L547.0,97.4 L549.2,98.7 L551.1,100.1 L552.7,101.5 L554.0,103.0 L554.9,104.6 L555.4,106.1 L555.6,107.7" fill="none" stroke="#000" stroke-width="1.9" stroke-linejoin="round" stroke-linecap="round" /><path d="M488.3,116.2 L488.5,115.0 L489.3,113.9 L490.4,112.8 L492.1,111.8 L494.1,110.8 L496.6,110.0 L499.4,109.2 L502.6,108.6 L506.1,108.1 L509.8,107.8 L513.7,107.6 L517.8,107.6 L522.0,107.8 L526.3,108.1 L530.6,108.6 L534.8,109.3 L538.9,110.2 L542.8,111.2 L546.5,112.5 L550.0,113.8 L553.2,115.3 L556.0,116.9 L558.5,118.7 L560.5,120.5 L562.2,122.4 L563.3,124.4 L564.1,126.4 L564.3,128.4 L555.6,128.4 L555.4,126.8 L554.9,125.3 L554.0,123.7 L552.7,122.2 L551.1,120.8 L549.2,119.4 L547.0,118.1 L544.6,116.9 L541.9,115.8 L539.0,114.9 L536.0,114.0 L532.8,113.2 L529.6,112.6 L526.3,112.1 L523.0,111.7 L519.8,111.5 L516.6,111.4 L513.6,111.4 L510.7,111.5 L508.0,111.7 L505.6,112.0 L503.4,112.5 L501.5,113.0 L499.9,113.5 L498.6,114.1 L497.7,114.8 L497.2,115.5 L497.0,116.2 Z" fill="#fff" stroke-width="0" stroke-linejoin="round" stroke-linecap="round" stroke="none"/><path d="M488.3,116.2 L488.5,115.0 L489.3,113.9 L490.4,112.8 L492.1,111.8 L494.1,110.8 L496.6,110.0 L499.4,109.2 L502.6,108.6 L506.1,108.1 L509.8,107.8 L513.7,107.6 L517.8,107.6 L522.0,107.8 L526.3,108.1 L530.6,108.6 L534.8,109.3 L538.9,110.2 L542.8,111.2 L546.5,112.5 L550.0,113.8 L553.2,115.3 L556.0,116.9 L558.5,118.7 L560.5,120.5 L562.2,122.4 L563.3,124.4 L564.1,126.4 L564.3,128.4" fill="none" stroke="#000" stroke-width="1.9" stroke-linejoin="round" stroke-linecap="round" /><path d="M497.0,116.2 L497.2,115.5 L497.7,114.8 L498.6,114.1 L499.9,113.5 L501.5,113.0 L503.4,112.5 L505.6,112.0 L508.0,111.7 L510.7,111.5 L513.6,111.4 L516.6,111.4 L519.8,111.5 L523.0,111.7 L526.3,112.1 L529.6,112.6 L532.8,113.2 L536.0,114.0 L539.0,114.9 L541.9,115.8 L544.6,116.9 L547.0,118.1 L549.2,119.4 L551.1,120.8 L552.7,122.2 L554.0,123.7 L554.9,125.3 L555.4,126.8 L555.6,128.4" fill="none" stroke="#000" stroke-width="1.9" stroke-linejoin="round" stroke-linecap="round" /><path d="M488.3,135.7 L488.5,134.6 L489.3,133.5 L490.4,132.4 L492.1,131.4 L494.1,130.4 L496.6,129.6 L499.4,128.9 L502.6,128.3 L506.1,127.8 L509.8,127.5 L513.7,127.3 L517.8,127.3 L522.0,127.5 L526.3,127.9 L530.6,128.4 L534.8,129.2 L538.9,130.1 L542.8,131.1 L546.5,132.4 L550.0,133.7 L553.2,135.3 L556.0,136.9 L558.5,138.7 L560.5,140.5 L562.2,142.4 L563.3,144.4 L564.1,146.5 L564.3,148.5 L555.6,148.5 L555.4,146.9 L554.9,145.3 L554.0,143.8 L552.7,142.2 L551.1,140.8 L549.2,139.4 L547.0,138.1 L544.6,136.9 L541.9,135.7 L539.0,134.7 L536.0,133.8 L532.8,133.1 L529.6,132.4 L526.3,131.9 L523.0,131.5 L519.8,131.2 L516.6,131.1 L513.6,131.1 L510.7,131.2 L508.0,131.4 L505.6,131.7 L503.4,132.1 L501.5,132.6 L499.9,133.1 L498.6,133.7 L497.7,134.3 L497.2,135.0 L497.0,135.7 Z" fill="#fff" stroke-width="0" stroke-linejoin="round" stroke-linecap="round" stroke="none"/><path d="M488.3,135.7 L488.5,134.6 L489.3,133.5 L490.4,132.4 L492.1,131.4 L494.1,130.4 L496.6,129.6 L499.4,128.9 L502.6,128.3 L506.1,127.8 L509.8,127.5 L513.7,127.3 L517.8,127.3 L522.0,127.5 L526.3,127.9 L530.6,128.4 L534.8,129.2 L538.9,130.1 L542.8,131.1 L546.5,132.4 L550.0,133.7 L553.2,135.3 L556.0,136.9 L558.5,138.7 L560.5,140.5 L562.2,142.4 L563.3,144.4 L564.1,146.5 L564.3,148.5" fill="none" stroke="#000" stroke-width="1.9" stroke-linejoin="round" stroke-linecap="round" /><path d="M497.0,135.7 L497.2,135.0 L497.7,134.3 L498.6,133.7 L499.9,133.1 L501.5,132.6 L503.4,132.1 L505.6,131.7 L508.0,131.4 L510.7,131.2 L513.6,131.1 L516.6,131.1 L519.8,131.2 L523.0,131.5 L526.3,131.9 L529.6,132.4 L532.8,133.1 L536.0,133.8 L539.0,134.7 L541.9,135.7 L544.6,136.9 L547.0,138.1 L549.2,139.4 L551.1,140.8 L552.7,142.2 L554.0,143.8 L554.9,145.3 L555.4,146.9 L555.6,148.5" fill="none" stroke="#000" stroke-width="1.9" stroke-linejoin="round" stroke-linecap="round" /><path d="M488.3,155.9 L488.5,154.7 L489.3,153.6 L490.4,152.5 L492.1,151.5 L494.1,150.5 L496.6,149.6 L499.4,148.9 L502.6,148.3 L506.1,147.8 L509.8,147.4 L513.7,147.3 L517.8,147.2 L522.0,147.4 L526.3,147.8 L530.6,148.3 L534.8,149.0 L538.9,149.8 L542.8,150.9 L546.5,152.1 L550.0,153.4 L553.2,154.9 L556.0,156.6 L558.5,158.3 L560.5,160.1 L562.2,162.0 L563.3,164.0 L564.1,166.0 L564.3,168.0 L555.6,168.0 L555.4,166.4 L554.9,164.9 L554.0,163.3 L552.7,161.8 L551.1,160.4 L549.2,159.0 L547.0,157.8 L544.6,156.6 L541.9,155.5 L539.0,154.5 L536.0,153.6 L532.8,152.9 L529.6,152.2 L526.3,151.8 L523.0,151.4 L519.8,151.1 L516.6,151.0 L513.6,151.0 L510.7,151.2 L508.0,151.4 L505.6,151.7 L503.4,152.1 L501.5,152.6 L499.9,153.2 L498.6,153.8 L497.7,154.5 L497.2,155.2 L497.0,155.9 Z" fill="#fff" stroke-width="0" stroke-linejoin="round" stroke-linecap="round" stroke="none"/><path d="M488.3,155.9 L488.5,154.7 L489.3,153.6 L490.4,152.5 L492.1,151.5 L494.1,150.5 L496.6,149.6 L499.4,148.9 L502.6,148.3 L506.1,147.8 L509.8,147.4 L513.7,147.3 L517.8,147.2 L522.0,147.4 L526.3,147.8 L530.6,148.3 L534.8,149.0 L538.9,149.8 L542.8,150.9 L546.5,152.1 L550.0,153.4 L553.2,154.9 L556.0,156.6 L558.5,158.3 L560.5,160.1 L562.2,162.0 L563.3,164.0 L564.1,166.0 L564.3,168.0" fill="none" stroke="#000" stroke-width="1.9" stroke-linejoin="round" stroke-linecap="round" /><path d="M497.0,155.9 L497.2,155.2 L497.7,154.5 L498.6,153.8 L499.9,153.2 L501.5,152.6 L503.4,152.1 L505.6,151.7 L508.0,151.4 L510.7,151.2 L513.6,151.0 L516.6,151.0 L519.8,151.1 L523.0,151.4 L526.3,151.8 L529.6,152.2 L532.8,152.9 L536.0,153.6 L539.0,154.5 L541.9,155.5 L544.6,156.6 L547.0,157.8 L549.2,159.0 L551.1,160.4 L552.7,161.8 L554.0,163.3 L554.9,164.9 L555.4,166.4 L555.6,168.0" fill="none" stroke="#000" stroke-width="1.9" stroke-linejoin="round" stroke-linecap="round" /><path d="M488.3,176.1 L488.5,175.0 L489.3,173.8 L490.4,172.8 L492.1,171.8 L494.1,170.8 L496.6,170.0 L499.4,169.2 L502.6,168.6 L506.1,168.2 L509.8,167.8 L513.7,167.7 L517.8,167.7 L522.0,167.9 L526.3,168.2 L530.6,168.8 L534.8,169.5 L538.9,170.4 L542.8,171.5 L546.5,172.7 L550.0,174.1 L553.2,175.6 L556.0,177.2 L558.5,179.0 L560.5,180.8 L562.2,182.7 L563.3,184.7 L564.1,186.8 L564.3,188.8 L555.6,188.8 L555.4,187.2 L554.9,185.6 L554.0,184.1 L552.7,182.6 L551.1,181.1 L549.2,179.7 L547.0,178.4 L544.6,177.2 L541.9,176.1 L539.0,175.1 L536.0,174.2 L532.8,173.4 L529.6,172.8 L526.3,172.2 L523.0,171.9 L519.8,171.6 L516.6,171.5 L513.6,171.4 L510.7,171.5 L508.0,171.8 L505.6,172.1 L503.4,172.5 L501.5,172.9 L499.9,173.5 L498.6,174.1 L497.7,174.7 L497.2,175.4 L497.0,176.1 Z" fill="#fff" stroke-width="0" stroke-linejoin="round" stroke-linecap="round" stroke="none"/><path d="M488.3,176.1 L488.5,175.0 L489.3,173.8 L490.4,172.8 L492.1,171.8 L494.1,170.8 L496.6,170.0 L499.4,169.2 L502.6,168.6 L506.1,168.2 L509.8,167.8 L513.7,167.7 L517.8,167.7 L522.0,167.9 L526.3,168.2 L530.6,168.8 L534.8,169.5 L538.9,170.4 L542.8,171.5 L546.5,172.7 L550.0,174.1 L553.2,175.6 L556.0,177.2 L558.5,179.0 L560.5,180.8 L562.2,182.7 L563.3,184.7 L564.1,186.8 L564.3,188.8" fill="none" stroke="#000" stroke-width="1.9" stroke-linejoin="round" stroke-linecap="round" /><path d="M497.0,176.1 L497.2,175.4 L497.7,174.7 L498.6,174.1 L499.9,173.5 L501.5,172.9 L503.4,172.5 L505.6,172.1 L508.0,171.8 L510.7,171.5 L513.6,171.4 L516.6,171.5 L519.8,171.6 L523.0,171.9 L526.3,172.2 L529.6,172.8 L532.8,173.4 L536.0,174.2 L539.0,175.1 L541.9,176.1 L544.6,177.2 L547.0,178.4 L549.2,179.7 L551.1,181.1 L552.7,182.6 L554.0,184.1 L554.9,185.6 L555.4,187.2 L555.6,188.8" fill="none" stroke="#000" stroke-width="1.9" stroke-linejoin="round" stroke-linecap="round" /><path d="M488.3,197.3 L488.5,196.1 L489.3,195.0 L490.4,193.9 L492.1,192.9 L494.1,191.9 L496.6,191.1 L499.4,190.3 L502.6,189.7 L506.1,189.2 L509.8,188.9 L513.7,188.7 L517.8,188.7 L522.0,188.9 L526.3,189.2 L530.6,189.7 L534.8,190.4 L538.9,191.3 L542.8,192.3 L546.5,193.6 L550.0,194.9 L553.2,196.4 L556.0,198.0 L558.5,199.8 L560.5,201.6 L562.2,203.5 L563.3,205.5 L564.1,207.5 L564.3,209.5 L555.6,209.5 L555.4,207.9 L554.9,206.4 L554.0,204.8 L552.7,203.3 L551.1,201.9 L549.2,200.5 L547.0,199.2 L544.6,198.0 L541.9,196.9 L539.0,196.0 L536.0,195.1 L532.8,194.3 L529.6,193.7 L526.3,193.2 L523.0,192.8 L519.8,192.6 L516.6,192.5 L513.6,192.5 L510.7,192.6 L508.0,192.8 L505.6,193.1 L503.4,193.6 L501.5,194.1 L499.9,194.6 L498.6,195.2 L497.7,195.9 L497.2,196.6 L497.0,197.3 Z" fill="#fff" stroke-width="0" stroke-linejoin="round" stroke-linecap="round" stroke="none"/><path d="M488.3,197.3 L488.5,196.1 L489.3,195.0 L490.4,193.9 L492.1,192.9 L494.1,191.9 L496.6,191.1 L499.4,190.3 L502.6,189.7 L506.1,189.2 L509.8,188.9 L513.7,188.7 L517.8,188.7 L522.0,188.9 L526.3,189.2 L530.6,189.7 L534.8,190.4 L538.9,191.3 L542.8,192.3 L546.5,193.6 L550.0,194.9 L553.2,196.4 L556.0,198.0 L558.5,199.8 L560.5,201.6 L562.2,203.5 L563.3,205.5 L564.1,207.5 L564.3,209.5" fill="none" stroke="#000" stroke-width="1.9" stroke-linejoin="round" stroke-linecap="round" /><path d="M497.0,197.3 L497.2,196.6 L497.7,195.9 L498.6,195.2 L499.9,194.6 L501.5,194.1 L503.4,193.6 L505.6,193.1 L508.0,192.8 L510.7,192.6 L513.6,192.5 L516.6,192.5 L519.8,192.6 L523.0,192.8 L526.3,193.2 L529.6,193.7 L532.8,194.3 L536.0,195.1 L539.0,196.0 L541.9,196.9 L544.6,198.0 L547.0,199.2 L549.2,200.5 L551.1,201.9 L552.7,203.3 L554.0,204.8 L554.9,206.4 L555.4,207.9 L555.6,209.5" fill="none" stroke="#000" stroke-width="1.9" stroke-linejoin="round" stroke-linecap="round" /><path d="M488.3,217.6 L488.5,216.5 L489.3,215.3 L490.4,214.3 L492.1,213.3 L494.1,212.3 L496.6,211.5 L499.4,210.7 L502.6,210.1 L506.1,209.7 L509.8,209.3 L513.7,209.2 L517.8,209.2 L522.0,209.4 L526.3,209.8 L530.6,210.3 L534.8,211.0 L538.9,211.9 L542.8,213.0 L546.5,214.2 L550.0,215.6 L553.2,217.1 L556.0,218.7 L558.5,220.5 L560.5,222.3 L562.2,224.2 L563.3,226.2 L564.1,228.3 L564.3,230.3 L555.6,230.3 L555.4,228.7 L554.9,227.1 L554.0,225.6 L552.7,224.1 L551.1,222.6 L549.2,221.2 L547.0,219.9 L544.6,218.7 L541.9,217.6 L539.0,216.6 L536.0,215.7 L532.8,214.9 L529.6,214.3 L526.3,213.8 L523.0,213.4 L519.8,213.1 L516.6,213.0 L513.6,212.9 L510.7,213.0 L508.0,213.3 L505.6,213.6 L503.4,214.0 L501.5,214.4 L499.9,215.0 L498.6,215.6 L497.7,216.2 L497.2,216.9 L497.0,217.6 Z" fill="#fff" stroke-width="0" stroke-linejoin="round" stroke-linecap="round" stroke="none"/><path d="M488.3,217.6 L488.5,216.5 L489.3,215.3 L490.4,214.3 L492.1,213.3 L494.1,212.3 L496.6,211.5 L499.4,210.7 L502.6,210.1 L506.1,209.7 L509.8,209.3 L513.7,209.2 L517.8,209.2 L522.0,209.4 L526.3,209.8 L530.6,210.3 L534.8,211.0 L538.9,211.9 L542.8,213.0 L546.5,214.2 L550.0,215.6 L553.2,217.1 L556.0,218.7 L558.5,220.5 L560.5,222.3 L562.2,224.2 L563.3,226.2 L564.1,228.3 L564.3,230.3" fill="none" stroke="#000" stroke-width="1.9" stroke-linejoin="round" stroke-linecap="round" /><path d="M497.0,217.6 L497.2,216.9 L497.7,216.2 L498.6,215.6 L499.9,215.0 L501.5,214.4 L503.4,214.0 L505.6,213.6 L508.0,213.3 L510.7,213.0 L513.6,212.9 L516.6,213.0 L519.8,213.1 L523.0,213.4 L526.3,213.8 L529.6,214.3 L532.8,214.9 L536.0,215.7 L539.0,216.6 L541.9,217.6 L544.6,218.7 L547.0,219.9 L549.2,221.2 L551.1,222.6 L552.7,224.1 L554.0,225.6 L554.9,227.1 L555.4,228.7 L555.6,230.3" fill="none" stroke="#000" stroke-width="1.9" stroke-linejoin="round" stroke-linecap="round" /><path d="M488.3,238.0 L488.5,237.0 L489.3,236.0 L490.4,235.0 L492.1,234.1 L494.1,233.3 L496.6,232.5 L499.4,231.9 L502.6,231.4 L506.1,231.1 L509.8,230.8 L513.7,230.8 L517.8,230.9 L522.0,231.2 L526.3,231.7 L530.6,232.4 L534.8,233.2 L538.9,234.2 L542.8,235.4 L546.5,236.7 L550.0,238.2 L553.2,239.8 L556.0,241.6 L558.5,243.4 L560.5,245.4 L562.2,247.4 L563.3,249.5 L564.1,251.6 L564.3,253.8 L555.6,253.8 L555.4,252.1 L554.9,250.4 L554.0,248.7 L552.7,247.1 L551.1,245.6 L549.2,244.1 L547.0,242.6 L544.6,241.3 L541.9,240.1 L539.0,239.0 L536.0,238.0 L532.8,237.1 L529.6,236.3 L526.3,235.7 L523.0,235.2 L519.8,234.8 L516.6,234.6 L513.6,234.5 L510.7,234.4 L508.0,234.5 L505.6,234.7 L503.4,235.0 L501.5,235.4 L499.9,235.8 L498.6,236.3 L497.7,236.9 L497.2,237.4 L497.0,238.0 Z" fill="#fff" stroke-width="0" stroke-linejoin="round" stroke-linecap="round" stroke="none"/><path d="M488.3,238.0 L488.5,237.0 L489.3,236.0 L490.4,235.0 L492.1,234.1 L494.1,233.3 L496.6,232.5 L499.4,231.9 L502.6,231.4 L506.1,231.1 L509.8,230.8 L513.7,230.8 L517.8,230.9 L522.0,231.2 L526.3,231.7 L530.6,232.4 L534.8,233.2 L538.9,234.2 L542.8,235.4 L546.5,236.7 L550.0,238.2 L553.2,239.8 L556.0,241.6 L558.5,243.4 L560.5,245.4 L562.2,247.4 L563.3,249.5 L564.1,251.6 L564.3,253.8" fill="none" stroke="#000" stroke-width="1.9" stroke-linejoin="round" stroke-linecap="round" /><path d="M497.0,238.0 L497.2,237.4 L497.7,236.9 L498.6,236.3 L499.9,235.8 L501.5,235.4 L503.4,235.0 L505.6,234.7 L508.0,234.5 L510.7,234.4 L513.6,234.5 L516.6,234.6 L519.8,234.8 L523.0,235.2 L526.3,235.7 L529.6,236.3 L532.8,237.1 L536.0,238.0 L539.0,239.0 L541.9,240.1 L544.6,241.3 L547.0,242.6 L549.2,244.1 L551.1,245.6 L552.7,247.1 L554.0,248.7 L554.9,250.4 L555.4,252.1 L555.6,253.8" fill="none" stroke="#000" stroke-width="1.9" stroke-linejoin="round" stroke-linecap="round" /><path d="M488.3,251.6 L488.5,250.1 L489.3,248.7 L490.4,247.3 L492.1,245.9 L494.1,244.7 L496.6,243.5 L499.4,242.4 L502.6,241.5 L506.1,240.7 L509.8,240.0 L513.7,239.5 L517.8,239.2 L522.0,239.1 L526.3,239.1 L530.6,239.3 L534.8,239.7 L538.9,240.3 L542.8,241.0 L546.5,241.9 L550.0,242.9 L553.2,244.1 L556.0,245.4 L558.5,246.8 L560.5,248.4 L562.2,249.9 L563.3,251.6 L564.1,253.3 L564.3,255.0 L555.6,255.0 L555.4,253.7 L554.9,252.5 L554.0,251.3 L552.7,250.1 L551.1,249.0 L549.2,247.9 L547.0,246.9 L544.6,246.1 L541.9,245.3 L539.0,244.6 L536.0,244.0 L532.8,243.6 L529.6,243.3 L526.3,243.1 L523.0,243.0 L519.8,243.1 L516.6,243.3 L513.6,243.6 L510.7,244.1 L508.0,244.6 L505.6,245.2 L503.4,246.0 L501.5,246.8 L499.9,247.7 L498.6,248.6 L497.7,249.6 L497.2,250.6 L497.0,251.6 Z" fill="#fff" stroke-width="0" stroke-linejoin="round" stroke-linecap="round" stroke="none"/><path d="M488.3,251.6 L488.5,250.1 L489.3,248.7 L490.4,247.3 L492.1,245.9 L494.1,244.7 L496.6,243.5 L499.4,242.4 L502.6,241.5 L506.1,240.7 L509.8,240.0 L513.7,239.5 L517.8,239.2 L522.0,239.1 L526.3,239.1 L530.6,239.3 L534.8,239.7 L538.9,240.3 L542.8,241.0 L546.5,241.9 L550.0,242.9 L553.2,244.1 L556.0,245.4 L558.5,246.8 L560.5,248.4 L562.2,249.9 L563.3,251.6 L564.1,253.3 L564.3,255.0" fill="none" stroke="#000" stroke-width="1.9" stroke-linejoin="round" stroke-linecap="round" /><path d="M497.0,251.6 L497.2,250.6 L497.7,249.6 L498.6,248.6 L499.9,247.7 L501.5,246.8 L503.4,246.0 L505.6,245.2 L508.0,244.6 L510.7,244.1 L513.6,243.6 L516.6,243.3 L519.8,243.1 L523.0,243.0 L526.3,243.1 L529.6,243.3 L532.8,243.6 L536.0,244.0 L539.0,244.6 L541.9,245.3 L544.6,246.1 L547.0,246.9 L549.2,247.9 L551.1,249.0 L552.7,250.1 L554.0,251.3 L554.9,252.5 L555.4,253.7 L555.6,255.0" fill="none" stroke="#000" stroke-width="1.9" stroke-linejoin="round" stroke-linecap="round" /><path d="M563.4,46.7 L563.2,48.9 L562.4,51.2 L561.3,53.3 L559.6,55.4 L557.6,57.4 L555.1,59.3 L552.3,61.1 L549.1,62.7 L545.6,64.1 L541.9,65.3 L538.0,66.4 L533.9,67.2 L529.7,67.8 L525.4,68.2 L521.1,68.4 L516.9,68.4 L512.8,68.2 L508.9,67.8 L505.2,67.1 L501.7,66.3 L498.5,65.3 L495.7,64.2 L493.2,62.9 L491.2,61.5 L489.5,60.0 L488.4,58.4 L487.6,56.8 L487.4,55.2 L496.1,55.2 L496.3,56.1 L496.8,57.0 L497.7,57.9 L499.0,58.7 L500.6,59.5 L502.5,60.2 L504.7,60.8 L507.1,61.3 L509.8,61.7 L512.7,62.0 L515.7,62.1 L518.9,62.2 L522.1,62.1 L525.4,61.9 L528.7,61.5 L531.9,61.0 L535.1,60.3 L538.1,59.6 L541.0,58.7 L543.7,57.7 L546.1,56.5 L548.3,55.3 L550.2,54.0 L551.8,52.6 L553.1,51.2 L554.0,49.7 L554.5,48.2 L554.7,46.7 Z" fill="#fff" stroke-width="0" stroke-linejoin="round" stroke-linecap="round" stroke="none"/><path d="M563.4,46.7 L563.2,48.9 L562.4,51.2 L561.3,53.3 L559.6,55.4 L557.6,57.4 L555.1,59.3 L552.3,61.1 L549.1,62.7 L545.6,64.1 L541.9,65.3 L538.0,66.4 L533.9,67.2 L529.7,67.8 L525.4,68.2 L521.1,68.4 L516.9,68.4 L512.8,68.2 L508.9,67.8 L505.2,67.1 L501.7,66.3 L498.5,65.3 L495.7,64.2 L493.2,62.9 L491.2,61.5 L489.5,60.0 L488.4,58.4 L487.6,56.8 L487.4,55.2" fill="none" stroke="#000" stroke-width="1.9" stroke-linejoin="round" stroke-linecap="round" /><path d="M554.7,46.7 L554.5,48.2 L554.0,49.7 L553.1,51.2 L551.8,52.6 L550.2,54.0 L548.3,55.3 L546.1,56.5 L543.7,57.7 L541.0,58.7 L538.1,59.6 L535.1,60.3 L531.9,61.0 L528.7,61.5 L525.4,61.9 L522.1,62.1 L518.9,62.2 L515.7,62.1 L512.7,62.0 L509.8,61.7 L507.1,61.3 L504.7,60.8 L502.5,60.2 L500.6,59.5 L499.0,58.7 L497.7,57.9 L496.8,57.0 L496.3,56.1 L496.1,55.2" fill="none" stroke="#000" stroke-width="1.9" stroke-linejoin="round" stroke-linecap="round" /><path d="M564.3,67.4 L564.1,69.6 L563.3,71.9 L562.2,74.0 L560.5,76.1 L558.5,78.1 L556.0,80.0 L553.2,81.8 L550.0,83.4 L546.5,84.8 L542.8,86.1 L538.9,87.1 L534.8,88.0 L530.6,88.6 L526.3,89.0 L522.0,89.2 L517.8,89.2 L513.7,89.0 L509.8,88.5 L506.1,87.9 L502.6,87.1 L499.4,86.1 L496.6,84.9 L494.1,83.7 L492.1,82.3 L490.4,80.8 L489.3,79.2 L488.5,77.6 L488.3,76.0 L497.0,76.0 L497.2,76.9 L497.7,77.8 L498.6,78.7 L499.9,79.5 L501.5,80.3 L503.4,81.0 L505.6,81.6 L508.0,82.1 L510.7,82.5 L513.6,82.7 L516.6,82.9 L519.8,82.9 L523.0,82.8 L526.3,82.6 L529.6,82.2 L532.8,81.7 L536.0,81.1 L539.0,80.3 L541.9,79.4 L544.6,78.4 L547.0,77.3 L549.2,76.0 L551.1,74.7 L552.7,73.4 L554.0,71.9 L554.9,70.4 L555.4,68.9 L555.6,67.4 Z" fill="#fff" stroke-width="0" stroke-linejoin="round" stroke-linecap="round" stroke="none"/><path d="M564.3,67.4 L564.1,69.6 L563.3,71.9 L562.2,74.0 L560.5,76.1 L558.5,78.1 L556.0,80.0 L553.2,81.8 L550.0,83.4 L546.5,84.8 L542.8,86.1 L538.9,87.1 L534.8,88.0 L530.6,88.6 L526.3,89.0 L522.0,89.2 L517.8,89.2 L513.7,89.0 L509.8,88.5 L506.1,87.9 L502.6,87.1 L499.4,86.1 L496.6,84.9 L494.1,83.7 L492.1,82.3 L490.4,80.8 L489.3,79.2 L488.5,77.6 L488.3,76.0" fill="none" stroke="#000" stroke-width="1.9" stroke-linejoin="round" stroke-linecap="round" /><path d="M555.6,67.4 L555.4,68.9 L554.9,70.4 L554.0,71.9 L552.7,73.4 L551.1,74.7 L549.2,76.0 L547.0,77.3 L544.6,78.4 L541.9,79.4 L539.0,80.3 L536.0,81.1 L532.8,81.7 L529.6,82.2 L526.3,82.6 L523.0,82.8 L519.8,82.9 L516.6,82.9 L513.6,82.7 L510.7,82.5 L508.0,82.1 L505.6,81.6 L503.4,81.0 L501.5,80.3 L499.9,79.5 L498.6,78.7 L497.7,77.8 L497.2,76.9 L497.0,76.0" fill="none" stroke="#000" stroke-width="1.9" stroke-linejoin="round" stroke-linecap="round" /><path d="M564.3,87.0 L564.1,89.2 L563.3,91.5 L562.2,93.6 L560.5,95.7 L558.5,97.7 L556.0,99.6 L553.2,101.4 L550.0,103.0 L546.5,104.4 L542.8,105.6 L538.9,106.7 L534.8,107.5 L530.6,108.1 L526.3,108.5 L522.0,108.7 L517.8,108.7 L513.7,108.5 L509.8,108.1 L506.1,107.4 L502.6,106.6 L499.4,105.6 L496.6,104.5 L494.1,103.2 L492.1,101.8 L490.4,100.3 L489.3,98.7 L488.5,97.1 L488.3,95.5 L497.0,95.5 L497.2,96.4 L497.7,97.3 L498.6,98.2 L499.9,99.0 L501.5,99.8 L503.4,100.5 L505.6,101.1 L508.0,101.6 L510.7,102.0 L513.6,102.3 L516.6,102.4 L519.8,102.5 L523.0,102.4 L526.3,102.2 L529.6,101.8 L532.8,101.3 L536.0,100.6 L539.0,99.9 L541.9,99.0 L544.6,98.0 L547.0,96.8 L549.2,95.6 L551.1,94.3 L552.7,92.9 L554.0,91.5 L554.9,90.0 L555.4,88.5 L555.6,87.0 Z" fill="#fff" stroke-width="0" stroke-linejoin="round" stroke-linecap="round" stroke="none"/><path d="M564.3,87.0 L564.1,89.2 L563.3,91.5 L562.2,93.6 L560.5,95.7 L558.5,97.7 L556.0,99.6 L553.2,101.4 L550.0,103.0 L546.5,104.4 L542.8,105.6 L538.9,106.7 L534.8,107.5 L530.6,108.1 L526.3,108.5 L522.0,108.7 L517.8,108.7 L513.7,108.5 L509.8,108.1 L506.1,107.4 L502.6,106.6 L499.4,105.6 L496.6,104.5 L494.1,103.2 L492.1,101.8 L490.4,100.3 L489.3,98.7 L488.5,97.1 L488.3,95.5" fill="none" stroke="#000" stroke-width="1.9" stroke-linejoin="round" stroke-linecap="round" /><path d="M555.6,87.0 L555.4,88.5 L554.9,90.0 L554.0,91.5 L552.7,92.9 L551.1,94.3 L549.2,95.6 L547.0,96.8 L544.6,98.0 L541.9,99.0 L539.0,99.9 L536.0,100.6 L532.8,101.3 L529.6,101.8 L526.3,102.2 L523.0,102.4 L519.8,102.5 L516.6,102.4 L513.6,102.3 L510.7,102.0 L508.0,101.6 L505.6,101.1 L503.4,100.5 L501.5,99.8 L499.9,99.0 L498.6,98.2 L497.7,97.3 L497.2,96.4 L497.0,95.5" fill="none" stroke="#000" stroke-width="1.9" stroke-linejoin="round" stroke-linecap="round" /><path d="M564.3,107.7 L564.1,109.9 L563.3,112.2 L562.2,114.3 L560.5,116.4 L558.5,118.4 L556.0,120.3 L553.2,122.1 L550.0,123.7 L546.5,125.1 L542.8,126.3 L538.9,127.4 L534.8,128.2 L530.6,128.8 L526.3,129.2 L522.0,129.4 L517.8,129.4 L513.7,129.2 L509.8,128.8 L506.1,128.1 L502.6,127.3 L499.4,126.3 L496.6,125.2 L494.1,123.9 L492.1,122.5 L490.4,121.0 L489.3,119.4 L488.5,117.8 L488.3,116.2 L497.0,116.2 L497.2,117.1 L497.7,118.0 L498.6,118.9 L499.9,119.7 L501.5,120.5 L503.4,121.2 L505.6,121.8 L508.0,122.3 L510.7,122.7 L513.6,123.0 L516.6,123.1 L519.8,123.2 L523.0,123.1 L526.3,122.9 L529.6,122.5 L532.8,122.0 L536.0,121.3 L539.0,120.6 L541.9,119.7 L544.6,118.7 L547.0,117.5 L549.2,116.3 L551.1,115.0 L552.7,113.6 L554.0,112.2 L554.9,110.7 L555.4,109.2 L555.6,107.7 Z" fill="#fff" stroke-width="0" stroke-linejoin="round" stroke-linecap="round" stroke="none"/><path d="M564.3,107.7 L564.1,109.9 L563.3,112.2 L562.2,114.3 L560.5,116.4 L558.5,118.4 L556.0,120.3 L553.2,122.1 L550.0,123.7 L546.5,125.1 L542.8,126.3 L538.9,127.4 L534.8,128.2 L530.6,128.8 L526.3,129.2 L522.0,129.4 L517.8,129.4 L513.7,129.2 L509.8,128.8 L506.1,128.1 L502.6,127.3 L499.4,126.3 L496.6,125.2 L494.1,123.9 L492.1,122.5 L490.4,121.0 L489.3,119.4 L488.5,117.8 L488.3,116.2" fill="none" stroke="#000" stroke-width="1.9" stroke-linejoin="round" stroke-linecap="round" /><path d="M555.6,107.7 L555.4,109.2 L554.9,110.7 L554.0,112.2 L552.7,113.6 L551.1,115.0 L549.2,116.3 L547.0,117.5 L544.6,118.7 L541.9,119.7 L539.0,120.6 L536.0,121.3 L532.8,122.0 L529.6,122.5 L526.3,122.9 L523.0,123.1 L519.8,123.2 L516.6,123.1 L513.6,123.0 L510.7,122.7 L508.0,122.3 L505.6,121.8 L503.4,121.2 L501.5,120.5 L499.9,119.7 L498.6,118.9 L497.7,118.0 L497.2,117.1 L497.0,116.2" fill="none" stroke="#000" stroke-width="1.9" stroke-linejoin="round" stroke-linecap="round" /><path d="M564.3,128.4 L564.1,130.6 L563.3,132.8 L562.2,134.9 L560.5,136.9 L558.5,138.9 L556.0,140.8 L553.2,142.5 L550.0,144.0 L546.5,145.4 L542.8,146.6 L538.9,147.6 L534.8,148.4 L530.6,149.0 L526.3,149.4 L522.0,149.5 L517.8,149.4 L513.7,149.2 L509.8,148.7 L506.1,148.0 L502.6,147.1 L499.4,146.1 L496.6,144.9 L494.1,143.6 L492.1,142.2 L490.4,140.6 L489.3,139.0 L488.5,137.4 L488.3,135.7 L497.0,135.7 L497.2,136.7 L497.7,137.6 L498.6,138.5 L499.9,139.4 L501.5,140.2 L503.4,140.9 L505.6,141.6 L508.0,142.1 L510.7,142.6 L513.6,142.9 L516.6,143.1 L519.8,143.2 L523.0,143.1 L526.3,143.0 L529.6,142.6 L532.8,142.2 L536.0,141.6 L539.0,140.8 L541.9,140.0 L544.6,139.0 L547.0,137.9 L549.2,136.8 L551.1,135.5 L552.7,134.2 L554.0,132.8 L554.9,131.3 L555.4,129.9 L555.6,128.4 Z" fill="#fff" stroke-width="0" stroke-linejoin="round" stroke-linecap="round" stroke="none"/><path d="M564.3,128.4 L564.1,130.6 L563.3,132.8 L562.2,134.9 L560.5,136.9 L558.5,138.9 L556.0,140.8 L553.2,142.5 L550.0,144.0 L546.5,145.4 L542.8,146.6 L538.9,147.6 L534.8,148.4 L530.6,149.0 L526.3,149.4 L522.0,149.5 L517.8,149.4 L513.7,149.2 L509.8,148.7 L506.1,148.0 L502.6,147.1 L499.4,146.1 L496.6,144.9 L494.1,143.6 L492.1,142.2 L490.4,140.6 L489.3,139.0 L488.5,137.4 L488.3,135.7" fill="none" stroke="#000" stroke-width="1.9" stroke-linejoin="round" stroke-linecap="round" /><path d="M555.6,128.4 L555.4,129.9 L554.9,131.3 L554.0,132.8 L552.7,134.2 L551.1,135.5 L549.2,136.8 L547.0,137.9 L544.6,139.0 L541.9,140.0 L539.0,140.8 L536.0,141.6 L532.8,142.2 L529.6,142.6 L526.3,143.0 L523.0,143.1 L519.8,143.2 L516.6,143.1 L513.6,142.9 L510.7,142.6 L508.0,142.1 L505.6,141.6 L503.4,140.9 L501.5,140.2 L499.9,139.4 L498.6,138.5 L497.7,137.6 L497.2,136.7 L497.0,135.7" fill="none" stroke="#000" stroke-width="1.9" stroke-linejoin="round" stroke-linecap="round" /><path d="M564.3,148.5 L564.1,150.7 L563.3,152.9 L562.2,155.0 L560.5,157.1 L558.5,159.0 L556.0,160.9 L553.2,162.6 L550.0,164.1 L546.5,165.5 L542.8,166.7 L538.9,167.7 L534.8,168.5 L530.6,169.1 L526.3,169.5 L522.0,169.7 L517.8,169.6 L513.7,169.3 L509.8,168.8 L506.1,168.2 L502.6,167.3 L499.4,166.3 L496.6,165.1 L494.1,163.8 L492.1,162.3 L490.4,160.8 L489.3,159.2 L488.5,157.6 L488.3,155.9 L497.0,155.9 L497.2,156.9 L497.7,157.8 L498.6,158.7 L499.9,159.6 L501.5,160.4 L503.4,161.1 L505.6,161.8 L508.0,162.3 L510.7,162.8 L513.6,163.1 L516.6,163.3 L519.8,163.4 L523.0,163.3 L526.3,163.1 L529.6,162.8 L532.8,162.3 L536.0,161.7 L539.0,161.0 L541.9,160.1 L544.6,159.1 L547.0,158.1 L549.2,156.9 L551.1,155.6 L552.7,154.3 L554.0,152.9 L554.9,151.5 L555.4,150.0 L555.6,148.5 Z" fill="#fff" stroke-width="0" stroke-linejoin="round" stroke-linecap="round" stroke="none"/><path d="M564.3,148.5 L564.1,150.7 L563.3,152.9 L562.2,155.0 L560.5,157.1 L558.5,159.0 L556.0,160.9 L553.2,162.6 L550.0,164.1 L546.5,165.5 L542.8,166.7 L538.9,167.7 L534.8,168.5 L530.6,169.1 L526.3,169.5 L522.0,169.7 L517.8,169.6 L513.7,169.3 L509.8,168.8 L506.1,168.2 L502.6,167.3 L499.4,166.3 L496.6,165.1 L494.1,163.8 L492.1,162.3 L490.4,160.8 L489.3,159.2 L488.5,157.6 L488.3,155.9" fill="none" stroke="#000" stroke-width="1.9" stroke-linejoin="round" stroke-linecap="round" /><path d="M555.6,148.5 L555.4,150.0 L554.9,151.5 L554.0,152.9 L552.7,154.3 L551.1,155.6 L549.2,156.9 L547.0,158.1 L544.6,159.1 L541.9,160.1 L539.0,161.0 L536.0,161.7 L532.8,162.3 L529.6,162.8 L526.3,163.1 L523.0,163.3 L519.8,163.4 L516.6,163.3 L513.6,163.1 L510.7,162.8 L508.0,162.3 L505.6,161.8 L503.4,161.1 L501.5,160.4 L499.9,159.6 L498.6,158.7 L497.7,157.8 L497.2,156.9 L497.0,155.9" fill="none" stroke="#000" stroke-width="1.9" stroke-linejoin="round" stroke-linecap="round" /><path d="M564.3,168.0 L564.1,170.2 L563.3,172.4 L562.2,174.6 L560.5,176.7 L558.5,178.7 L556.0,180.5 L553.2,182.3 L550.0,183.8 L546.5,185.3 L542.8,186.5 L538.9,187.5 L534.8,188.3 L530.6,189.0 L526.3,189.4 L522.0,189.5 L517.8,189.5 L513.7,189.2 L509.8,188.8 L506.1,188.1 L502.6,187.3 L499.4,186.3 L496.6,185.2 L494.1,183.9 L492.1,182.4 L490.4,180.9 L489.3,179.4 L488.5,177.7 L488.3,176.1 L497.0,176.1 L497.2,177.0 L497.7,177.9 L498.6,178.8 L499.9,179.7 L501.5,180.5 L503.4,181.2 L505.6,181.8 L508.0,182.3 L510.7,182.7 L513.6,183.0 L516.6,183.2 L519.8,183.3 L523.0,183.2 L526.3,183.0 L529.6,182.6 L532.8,182.1 L536.0,181.5 L539.0,180.7 L541.9,179.8 L544.6,178.8 L547.0,177.7 L549.2,176.5 L551.1,175.2 L552.7,173.9 L554.0,172.5 L554.9,171.0 L555.4,169.5 L555.6,168.0 Z" fill="#fff" stroke-width="0" stroke-linejoin="round" stroke-linecap="round" stroke="none"/><path d="M564.3,168.0 L564.1,170.2 L563.3,172.4 L562.2,174.6 L560.5,176.7 L558.5,178.7 L556.0,180.5 L553.2,182.3 L550.0,183.8 L546.5,185.3 L542.8,186.5 L538.9,187.5 L534.8,188.3 L530.6,189.0 L526.3,189.4 L522.0,189.5 L517.8,189.5 L513.7,189.2 L509.8,188.8 L506.1,188.1 L502.6,187.3 L499.4,186.3 L496.6,185.2 L494.1,183.9 L492.1,182.4 L490.4,180.9 L489.3,179.4 L488.5,177.7 L488.3,176.1" fill="none" stroke="#000" stroke-width="1.9" stroke-linejoin="round" stroke-linecap="round" /><path d="M555.6,168.0 L555.4,169.5 L554.9,171.0 L554.0,172.5 L552.7,173.9 L551.1,175.2 L549.2,176.5 L547.0,177.7 L544.6,178.8 L541.9,179.8 L539.0,180.7 L536.0,181.5 L532.8,182.1 L529.6,182.6 L526.3,183.0 L523.0,183.2 L519.8,183.3 L516.6,183.2 L513.6,183.0 L510.7,182.7 L508.0,182.3 L505.6,181.8 L503.4,181.2 L501.5,180.5 L499.9,179.7 L498.6,178.8 L497.7,177.9 L497.2,177.0 L497.0,176.1" fill="none" stroke="#000" stroke-width="1.9" stroke-linejoin="round" stroke-linecap="round" /><path d="M564.3,188.8 L564.1,191.0 L563.3,193.3 L562.2,195.4 L560.5,197.5 L558.5,199.5 L556.0,201.4 L553.2,203.2 L550.0,204.8 L546.5,206.2 L542.8,207.4 L538.9,208.5 L534.8,209.3 L530.6,209.9 L526.3,210.4 L522.0,210.5 L517.8,210.5 L513.7,210.3 L509.8,209.9 L506.1,209.2 L502.6,208.4 L499.4,207.4 L496.6,206.3 L494.1,205.0 L492.1,203.6 L490.4,202.1 L489.3,200.5 L488.5,198.9 L488.3,197.3 L497.0,197.3 L497.2,198.2 L497.7,199.1 L498.6,200.0 L499.9,200.8 L501.5,201.6 L503.4,202.3 L505.6,202.9 L508.0,203.4 L510.7,203.8 L513.6,204.1 L516.6,204.2 L519.8,204.3 L523.0,204.2 L526.3,204.0 L529.6,203.6 L532.8,203.1 L536.0,202.4 L539.0,201.7 L541.9,200.8 L544.6,199.8 L547.0,198.6 L549.2,197.4 L551.1,196.1 L552.7,194.7 L554.0,193.3 L554.9,191.8 L555.4,190.3 L555.6,188.8 Z" fill="#fff" stroke-width="0" stroke-linejoin="round" stroke-linecap="round" stroke="none"/><path d="M564.3,188.8 L564.1,191.0 L563.3,193.3 L562.2,195.4 L560.5,197.5 L558.5,199.5 L556.0,201.4 L553.2,203.2 L550.0,204.8 L546.5,206.2 L542.8,207.4 L538.9,208.5 L534.8,209.3 L530.6,209.9 L526.3,210.4 L522.0,210.5 L517.8,210.5 L513.7,210.3 L509.8,209.9 L506.1,209.2 L502.6,208.4 L499.4,207.4 L496.6,206.3 L494.1,205.0 L492.1,203.6 L490.4,202.1 L489.3,200.5 L488.5,198.9 L488.3,197.3" fill="none" stroke="#000" stroke-width="1.9" stroke-linejoin="round" stroke-linecap="round" /><path d="M555.6,188.8 L555.4,190.3 L554.9,191.8 L554.0,193.3 L552.7,194.7 L551.1,196.1 L549.2,197.4 L547.0,198.6 L544.6,199.8 L541.9,200.8 L539.0,201.7 L536.0,202.4 L532.8,203.1 L529.6,203.6 L526.3,204.0 L523.0,204.2 L519.8,204.3 L516.6,204.2 L513.6,204.1 L510.7,203.8 L508.0,203.4 L505.6,202.9 L503.4,202.3 L501.5,201.6 L499.9,200.8 L498.6,200.0 L497.7,199.1 L497.2,198.2 L497.0,197.3" fill="none" stroke="#000" stroke-width="1.9" stroke-linejoin="round" stroke-linecap="round" /><path d="M564.3,209.5 L564.1,211.7 L563.3,213.9 L562.2,216.1 L560.5,218.2 L558.5,220.2 L556.0,222.0 L553.2,223.8 L550.0,225.3 L546.5,226.8 L542.8,228.0 L538.9,229.0 L534.8,229.8 L530.6,230.5 L526.3,230.9 L522.0,231.0 L517.8,231.0 L513.7,230.7 L509.8,230.3 L506.1,229.6 L502.6,228.8 L499.4,227.8 L496.6,226.7 L494.1,225.4 L492.1,223.9 L490.4,222.4 L489.3,220.9 L488.5,219.2 L488.3,217.6 L497.0,217.6 L497.2,218.5 L497.7,219.4 L498.6,220.3 L499.9,221.2 L501.5,222.0 L503.4,222.7 L505.6,223.3 L508.0,223.8 L510.7,224.2 L513.6,224.5 L516.6,224.7 L519.8,224.8 L523.0,224.7 L526.3,224.5 L529.6,224.1 L532.8,223.6 L536.0,223.0 L539.0,222.2 L541.9,221.3 L544.6,220.3 L547.0,219.2 L549.2,218.0 L551.1,216.7 L552.7,215.4 L554.0,214.0 L554.9,212.5 L555.4,211.0 L555.6,209.5 Z" fill="#fff" stroke-width="0" stroke-linejoin="round" stroke-linecap="round" stroke="none"/><path d="M564.3,209.5 L564.1,211.7 L563.3,213.9 L562.2,216.1 L560.5,218.2 L558.5,220.2 L556.0,222.0 L553.2,223.8 L550.0,225.3 L546.5,226.8 L542.8,228.0 L538.9,229.0 L534.8,229.8 L530.6,230.5 L526.3,230.9 L522.0,231.0 L517.8,231.0 L513.7,230.7 L509.8,230.3 L506.1,229.6 L502.6,228.8 L499.4,227.8 L496.6,226.7 L494.1,225.4 L492.1,223.9 L490.4,222.4 L489.3,220.9 L488.5,219.2 L488.3,217.6" fill="none" stroke="#000" stroke-width="1.9" stroke-linejoin="round" stroke-linecap="round" /><path d="M555.6,209.5 L555.4,211.0 L554.9,212.5 L554.0,214.0 L552.7,215.4 L551.1,216.7 L549.2,218.0 L547.0,219.2 L544.6,220.3 L541.9,221.3 L539.0,222.2 L536.0,223.0 L532.8,223.6 L529.6,224.1 L526.3,224.5 L523.0,224.7 L519.8,224.8 L516.6,224.7 L513.6,224.5 L510.7,224.2 L508.0,223.8 L505.6,223.3 L503.4,222.7 L501.5,222.0 L499.9,221.2 L498.6,220.3 L497.7,219.4 L497.2,218.5 L497.0,217.6" fill="none" stroke="#000" stroke-width="1.9" stroke-linejoin="round" stroke-linecap="round" /><path d="M564.3,230.3 L564.1,232.5 L563.3,234.7 L562.2,236.8 L560.5,238.9 L558.5,240.9 L556.0,242.7 L553.2,244.5 L550.0,246.0 L546.5,247.4 L542.8,248.6 L538.9,249.7 L534.8,250.5 L530.6,251.1 L526.3,251.5 L522.0,251.6 L517.8,251.6 L513.7,251.3 L509.8,250.8 L506.1,250.2 L502.6,249.3 L499.4,248.3 L496.6,247.1 L494.1,245.8 L492.1,244.4 L490.4,242.9 L489.3,241.3 L488.5,239.7 L488.3,238.0 L497.0,238.0 L497.2,238.9 L497.7,239.9 L498.6,240.8 L499.9,241.6 L501.5,242.4 L503.4,243.1 L505.6,243.8 L508.0,244.3 L510.7,244.8 L513.6,245.1 L516.6,245.3 L519.8,245.3 L523.0,245.3 L526.3,245.1 L529.6,244.7 L532.8,244.2 L536.0,243.6 L539.0,242.9 L541.9,242.0 L544.6,241.0 L547.0,239.9 L549.2,238.7 L551.1,237.5 L552.7,236.1 L554.0,234.7 L554.9,233.3 L555.4,231.8 L555.6,230.3 Z" fill="#fff" stroke-width="0" stroke-linejoin="round" stroke-linecap="round" stroke="none"/><path d="M564.3,230.3 L564.1,232.5 L563.3,234.7 L562.2,236.8 L560.5,238.9 L558.5,240.9 L556.0,242.7 L553.2,244.5 L550.0,246.0 L546.5,247.4 L542.8,248.6 L538.9,249.7 L534.8,250.5 L530.6,251.1 L526.3,251.5 L522.0,251.6 L517.8,251.6 L513.7,251.3 L509.8,250.8 L506.1,250.2 L502.6,249.3 L499.4,248.3 L496.6,247.1 L494.1,245.8 L492.1,244.4 L490.4,242.9 L489.3,241.3 L488.5,239.7 L488.3,238.0" fill="none" stroke="#000" stroke-width="1.9" stroke-linejoin="round" stroke-linecap="round" /><path d="M555.6,230.3 L555.4,231.8 L554.9,233.3 L554.0,234.7 L552.7,236.1 L551.1,237.5 L549.2,238.7 L547.0,239.9 L544.6,241.0 L541.9,242.0 L539.0,242.9 L536.0,243.6 L532.8,244.2 L529.6,244.7 L526.3,245.1 L523.0,245.3 L519.8,245.3 L516.6,245.3 L513.6,245.1 L510.7,244.8 L508.0,244.3 L505.6,243.8 L503.4,243.1 L501.5,242.4 L499.9,241.6 L498.6,240.8 L497.7,239.9 L497.2,238.9 L497.0,238.0" fill="none" stroke="#000" stroke-width="1.9" stroke-linejoin="round" stroke-linecap="round" /><path d="M564.3,253.8 L564.1,255.7 L563.3,257.5 L562.2,259.3 L560.5,261.0 L558.5,262.6 L556.0,264.1 L553.2,265.5 L550.0,266.7 L546.5,267.7 L542.8,268.6 L538.9,269.3 L534.8,269.7 L530.6,270.0 L526.3,270.0 L522.0,269.8 L517.8,269.4 L513.7,268.8 L509.8,268.0 L506.1,267.0 L502.6,265.8 L499.4,264.4 L496.6,262.9 L494.1,261.2 L492.1,259.4 L490.4,257.5 L489.3,255.6 L488.5,253.6 L488.3,251.6 L497.0,251.6 L497.2,252.9 L497.7,254.2 L498.6,255.4 L499.9,256.6 L501.5,257.8 L503.4,258.9 L505.6,259.9 L508.0,260.8 L510.7,261.5 L513.6,262.2 L516.6,262.8 L519.8,263.2 L523.0,263.5 L526.3,263.6 L529.6,263.6 L532.8,263.5 L536.0,263.2 L539.0,262.8 L541.9,262.3 L544.6,261.7 L547.0,261.0 L549.2,260.1 L551.1,259.2 L552.7,258.2 L554.0,257.2 L554.9,256.1 L555.4,254.9 L555.6,253.8 Z" fill="#fff" stroke-width="0" stroke-linejoin="round" stroke-linecap="round" stroke="none"/><path d="M564.3,253.8 L564.1,255.7 L563.3,257.5 L562.2,259.3 L560.5,261.0 L558.5,262.6 L556.0,264.1 L553.2,265.5 L550.0,266.7 L546.5,267.7 L542.8,268.6 L538.9,269.3 L534.8,269.7 L530.6,270.0 L526.3,270.0 L522.0,269.8 L517.8,269.4 L513.7,268.8 L509.8,268.0 L506.1,267.0 L502.6,265.8 L499.4,264.4 L496.6,262.9 L494.1,261.2 L492.1,259.4 L490.4,257.5 L489.3,255.6 L488.5,253.6 L488.3,251.6" fill="none" stroke="#000" stroke-width="1.9" stroke-linejoin="round" stroke-linecap="round" /><path d="M555.6,253.8 L555.4,254.9 L554.9,256.1 L554.0,257.2 L552.7,258.2 L551.1,259.2 L549.2,260.1 L547.0,261.0 L544.6,261.7 L541.9,262.3 L539.0,262.8 L536.0,263.2 L532.8,263.5 L529.6,263.6 L526.3,263.6 L523.0,263.5 L519.8,263.2 L516.6,262.8 L513.6,262.2 L510.7,261.5 L508.0,260.8 L505.6,259.9 L503.4,258.9 L501.5,257.8 L499.9,256.6 L498.6,255.4 L497.7,254.2 L497.2,252.9 L497.0,251.6" fill="none" stroke="#000" stroke-width="1.9" stroke-linejoin="round" stroke-linecap="round" /><path d="M564.3,255.0 L564.2,256.6 L563.8,258.3 L563.3,259.9 L562.4,261.4 L561.4,263.0 L560.2,264.5 L558.7,266.0 L557.0,267.4 L555.2,268.7 L553.2,270.0 L551.0,271.2 L548.6,272.3 L543.5,267.1 L545.3,266.3 L547.0,265.5 L548.6,264.6 L550.0,263.6 L551.3,262.6 L552.4,261.6 L553.4,260.5 L554.2,259.5 L554.8,258.4 L555.2,257.3 L555.5,256.1 L555.6,255.0 Z" fill="#fff" stroke-width="0" stroke-linejoin="round" stroke-linecap="round" stroke="none"/><path d="M564.3,255.0 L564.2,256.6 L563.8,258.3 L563.3,259.9 L562.4,261.4 L561.4,263.0 L560.2,264.5 L558.7,266.0 L557.0,267.4 L555.2,268.7 L553.2,270.0 L551.0,271.2 L548.6,272.3" fill="none" stroke="#000" stroke-width="1.9" stroke-linejoin="round" stroke-linecap="round" /><path d="M555.6,255.0 L555.5,256.1 L555.2,257.3 L554.8,258.4 L554.2,259.5 L553.4,260.5 L552.4,261.6 L551.3,262.6 L550.0,263.6 L548.6,264.6 L547.0,265.5 L545.3,266.3 L543.5,267.1" fill="none" stroke="#000" stroke-width="1.9" stroke-linejoin="round" stroke-linecap="round" /><ellipse cx="545.8" cy="269.9" rx="2.6" ry="3.4" transform="rotate(35 546.1 269.7)" fill="#fff" stroke="#000" stroke-width="1.5"/><path d="M499.0,54.2 L497.3,53.4 L495.6,52.5 L494.1,51.6 L492.7,50.6 L491.5,49.6 L490.4,48.5 L489.5,47.5 L488.8,46.4 L488.2,45.2 L487.7,44.1 L487.5,43.0 L487.4,41.8 L496.1,41.8 L496.2,42.6 L496.4,43.3 L496.7,44.0 L497.1,44.8 L497.7,45.5 L498.4,46.2 L499.3,46.9 L500.2,47.5 L501.3,48.2 L502.4,48.8 L503.7,49.3 L505.1,49.9 Z" fill="#fff" stroke-width="0" stroke-linejoin="round" stroke-linecap="round" stroke="none"/><path d="M499.0,54.2 L497.3,53.4 L495.6,52.5 L494.1,51.6 L492.7,50.6 L491.5,49.6 L490.4,48.5 L489.5,47.5 L488.8,46.4 L488.2,45.2 L487.7,44.1 L487.5,43.0 L487.4,41.8" fill="none" stroke="#000" stroke-width="1.9" stroke-linejoin="round" stroke-linecap="round" /><path d="M505.1,49.9 L503.7,49.3 L502.4,48.8 L501.3,48.2 L500.2,47.5 L499.3,46.9 L498.4,46.2 L497.7,45.5 L497.1,44.8 L496.7,44.0 L496.4,43.3 L496.2,42.6 L496.1,41.8" fill="none" stroke="#000" stroke-width="1.9" stroke-linejoin="round" stroke-linecap="round" /><ellipse cx="502.4" cy="52.3" rx="2.9" ry="3.3" transform="rotate(-25 502.1 52.0)" fill="#fff" stroke="#000" stroke-width="1.5"/></g>
<g id="p4"><path d="M761.8,446 L761.9,478.8 C762.2,482 763.5,483.8 765.2,484.9 A16.5,4.6 0 0 0 792.6,484.9 C794.4,483.8 795.8,482 796.2,478.8 L796.6,446 Z" fill="#fff" stroke="#000" stroke-width="1.6" stroke-linejoin="round" stroke-linecap="round" /><path d="M762.6,479.0 A16.6,6.6 0 0 0 795.5,479.3" fill="none" stroke="#000" stroke-width="1.3" stroke-linejoin="round" stroke-linecap="round" /><path d="M760.6,386 L761.4,448.4 A17.6,4.6 0 0 0 796.6,448.2 L795.4,386 Z" fill="#fff" stroke="#000" stroke-width="1.6" stroke-linejoin="round" stroke-linecap="round" /><path d="M756.4,424.9 C756.9,423.4 757.1,426.8 758.1,428.1 C759.5,430.1 759.6,431.1 761.9,432.4 C765.5,434.4 767.2,434.7 771.8,435.7 C776.2,436.6 777.7,436.8 781.8,436.4 C784.3,436.1 785.3,433.3 786.9,434.2 C788.5,435.1 786.1,437.9 787.7,439.9 C790.6,443.3 797.7,445.4 797.7,447.0 C797.7,448.7 792.2,446.0 787.7,446.0 C784.6,446.0 783.8,448.1 781.0,447.0 C777.6,445.7 778.5,442.5 775.0,441.0 C770.4,439.1 768.1,439.6 763.8,439.9 C761.5,440.0 761.3,441.2 759.1,442.0 C756.1,443.2 752.9,447.5 752.4,444.3 C751.7,439.8 754.9,429.3 756.4,424.9 Z" fill="#fff" stroke="#000" stroke-width="1.6" stroke-linejoin="round" stroke-linecap="round" /><path d="M739.0,421.1 C739.5,419.5 740.1,419.0 741.8,418.6 C743.3,418.1 744.1,418.3 745.3,419.4 C746.4,420.3 745.7,421.1 746.1,422.4 C746.5,423.6 746.4,424.9 747.1,424.9 C747.8,424.9 748.0,423.6 748.5,422.4 C748.9,421.5 748.3,420.9 749.1,420.3 C750.5,419.5 751.4,419.1 753.3,419.5 C754.9,419.7 756.0,419.9 756.4,421.5 C757.3,425.6 756.5,433.1 756.5,433.1 L758.5,438.9 L752.1,444.4 C752.1,444.4 750.8,443.5 749.7,442.8 C746.0,440.4 742.8,440.8 739.6,436.5 C737.3,433.5 738.6,431.9 738.5,428.1 C738.3,425.0 738.0,424.0 739.0,421.1 Z" fill="#fff" stroke="#000" stroke-width="1.8" stroke-linejoin="round" stroke-linecap="round" /><path d="M752.0,421.1 L752.5,433.9 L758.1,439.1" fill="none" stroke="#000" stroke-width="1.2" stroke-linejoin="round" stroke-linecap="round" /><ellipse cx="746.4" cy="431.9" rx="1.5" ry="1.8" fill="#fff" stroke="#000" stroke-width="1.1" /><path d="M786.9,431.7 L789.7,430.3 L800.7,433.5 L802.6,436.9 L799.9,439.9 L799.9,444.8 L797.7,447.0 L785.9,443.8 L783.9,441.0 L786.5,436.1 Z" fill="#fff" stroke="#000" stroke-width="1.6" stroke-linejoin="round" stroke-linecap="round" /><path d="M788.7,433.1 L799.7,436.1 L799.3,439.9" fill="none" stroke="#000" stroke-width="1.1" stroke-linejoin="round" stroke-linecap="round" /><ellipse cx="792.8" cy="440.3" rx="2.0" ry="1.8" fill="#fff" stroke="#000" stroke-width="1.2" /><path d="M795.3,428.1 L796.8,424.9 L798.9,431.5" fill="none" stroke="#000" stroke-width="1.3" stroke-linejoin="round" stroke-linecap="round" /><path d="M756.4,363.4 C756.4,363.4 753.9,365.3 751.9,366.9 C750.1,368.4 749.2,368.4 748.0,370.4 C746.6,372.6 746.4,373.3 746.4,375.9 C746.4,378.3 746.6,379.0 748.0,381.0 C749.6,383.5 750.4,383.9 752.9,385.4 C754.9,386.6 755.6,386.4 757.9,387.0 C759.3,387.4 761.1,387.5 761.1,387.5 C761.1,387.5 765.9,388.3 769.8,388.6 C773.4,388.9 774.2,389.0 777.8,389.0 C780.9,389.0 781.6,388.9 784.8,388.6 C787.0,388.4 789.7,387.9 789.7,387.9 C789.7,387.9 791.9,390.7 793.7,393.0 C795.1,394.7 794.8,395.7 796.7,396.8 C798.7,397.9 799.5,398.1 801.7,397.5 C804.7,396.6 805.5,396.1 807.7,393.8 C810.0,391.2 810.3,390.2 811.2,386.8 C812.2,383.4 812.3,382.5 811.7,379.1 C811.4,377.1 809.2,375.4 809.2,375.4 L806.7,376.1 C806.7,376.1 805.6,372.5 804.2,369.9 C802.7,367.1 800.2,363.9 800.2,363.9 L756.4,363.4 Z" fill="#fff" stroke="#000" stroke-width="1.8" stroke-linejoin="round" stroke-linecap="round" /><path d="M753.1,371.4 C753.1,371.4 752.0,373.7 752.2,375.7 C752.4,377.3 753.9,378.9 753.9,378.9 C753.9,378.9 756.1,379.6 757.9,379.9 C759.7,380.1 760.1,379.7 761.9,380.0 C765.5,380.8 766.2,381.6 769.8,382.3 C773.4,383.1 774.2,383.1 777.8,383.3 C781.4,383.6 782.2,383.5 785.8,383.3 C788.5,383.2 791.7,382.8 791.7,382.8 C791.7,382.8 792.9,384.2 793.7,385.3 C795.5,387.8 795.0,389.4 797.7,390.8 C799.7,391.8 800.9,391.2 802.7,389.8 C805.7,387.4 806.5,386.5 807.7,382.8 C808.5,380.3 806.9,377.1 806.9,377.1" fill="none" stroke="#000" stroke-width="1.4" stroke-linejoin="round" stroke-linecap="round" /><path d="M753.9,378.9 L758.9,376.9 L761.1,378.9 L756.1,383.0" fill="none" stroke="#000" stroke-width="1.4" stroke-linejoin="round" stroke-linecap="round" /><path d="M761.4,382.0 C761.4,382.0 766.0,383.6 769.8,384.3 C773.4,385.0 774.2,385.1 777.8,385.3 C780.9,385.5 781.6,385.4 784.8,385.1 C787.2,384.9 790.2,384.3 790.2,384.3" fill="none" stroke="#000" stroke-width="1.3" stroke-linejoin="round" stroke-linecap="round" /><path d="M801.7,389.3 L803.7,385.8 L806.7,387.3" fill="none" stroke="#000" stroke-width="1.3" stroke-linejoin="round" stroke-linecap="round" /><path d="M754.6,369.6 A23.6,6.6 0 0 0 803.9,370.4" fill="none" stroke="#000" stroke-width="1.3" stroke-linejoin="round" stroke-linecap="round" /><path d="M756.9,364 C756,366 755,368 754.4,369.4 A24.9,6.0 0 0 0 804.2,369.9 C803,367.5 801.5,365.5 800.2,364 Z" fill="#fff" stroke="#000" stroke-width="1.5" stroke-linejoin="round" stroke-linecap="round" /><path d="M756.9,365.4 A21.7,7.0 0 0 0 800.2,365.4" fill="none" stroke="#000" stroke-width="1.3" stroke-linejoin="round" stroke-linecap="round" /><path d="M758.7,357.2 L758.7,362.4 A19.6,6.0 0 0 0 798.0,362.0 L798.0,357.2 Q797.8,355.8 796,355.6 L760.6,355.6 Q758.9,355.8 758.7,357.2 Z" fill="#fff" stroke="#000" stroke-width="1.5" stroke-linejoin="round" stroke-linecap="round" /><path d="M760.6,276 L761.1,359.5 A17.1,4.9 0 0 0 795.3,359.5 L795.6,276 Z" fill="#fff" stroke="#000" stroke-width="1.6" stroke-linejoin="round" stroke-linecap="round" /><path d="M757.0,262 L757.0,276.0 A20.4,5.7 0 0 0 797.9,276.0 L797.9,262 Z" fill="#fff" stroke="#000" stroke-width="1.5" stroke-linejoin="round" stroke-linecap="round" /><ellipse cx="791.6" cy="273.2" rx="1.6" ry="1.0" transform="rotate(-20 791.6 273.2)" fill="#fff" stroke="#000" stroke-width="1"/><path d="M754.0,258.8 L754.0,261.4 A23.4,10.3 0 0 0 800.8,261.4 L800.8,258.8 Z" fill="#fff" stroke="#000" stroke-width="1.5" stroke-linejoin="round" stroke-linecap="round" /><ellipse cx="777.4" cy="258.8" rx="23.4" ry="10.3" fill="#fff" stroke="#000" stroke-width="1.5" /><ellipse cx="763.5" cy="255.9" rx="2.3" ry="1.4" fill="#fff" stroke="#000" stroke-width="1.1" /><ellipse cx="764.0" cy="262.3" rx="2.3" ry="1.4" fill="#fff" stroke="#000" stroke-width="1.1" /><ellipse cx="779.8" cy="265.2" rx="2.3" ry="1.4" fill="#fff" stroke="#000" stroke-width="1.1" /><ellipse cx="790.5" cy="261.4" rx="2.3" ry="1.4" fill="#fff" stroke="#000" stroke-width="1.1" /><ellipse cx="788.8" cy="255.5" rx="2.3" ry="1.4" fill="#fff" stroke="#000" stroke-width="1.1" /><path d="M770.2,181.5 L770.9,261.4 A7.1,2.2 0 0 0 785.0,261.4 L785.0,181.5 Z" fill="#fff" stroke="#000" stroke-width="1.5" stroke-linejoin="round" stroke-linecap="round" /><path d="M782.6,183.5 L782.6,262.6" fill="none" stroke="#000" stroke-width="1.1" stroke-linejoin="round" stroke-linecap="round" /><path d="M770.0,182.2 L771.0,180.4 L784.0,180.4 L785.0,182.2 A7.5,2.0 0 0 1 770.0,182.2 Z" fill="#fff" stroke="#000" stroke-width="1.3" stroke-linejoin="round" stroke-linecap="round" /><path d="M772.0,158 L772.0,180.6 A4.4,1.4 0 0 0 780.7,180.6 L780.7,158 Z" fill="#fff" stroke="#000" stroke-width="1.3" stroke-linejoin="round" stroke-linecap="round" /><path d="M779.0,160 L779.0,181" fill="none" stroke="#000" stroke-width="0.9" stroke-linejoin="round" stroke-linecap="round" /><path d="M771.2,141.2 L771.2,158.4 A5,1.5 0 0 0 781.2,158.4 L781.2,141.2 A5,1.4 0 0 0 771.2,141.2 Z" fill="#fff" stroke="#000" stroke-width="1.4" stroke-linejoin="round" stroke-linecap="round" /><path d="M771.2,143.6 A5,1.4 0 0 0 781.2,143.6" fill="none" stroke="#000" stroke-width="1.2" stroke-linejoin="round" stroke-linecap="round" /><path d="M771.2,146.8 A5,1.4 0 0 0 781.2,146.8" fill="none" stroke="#000" stroke-width="1.2" stroke-linejoin="round" stroke-linecap="round" /><path d="M771.2,150.0 A5,1.4 0 0 0 781.2,150.0" fill="none" stroke="#000" stroke-width="1.2" stroke-linejoin="round" stroke-linecap="round" /><path d="M771.2,153.2 A5,1.4 0 0 0 781.2,153.2" fill="none" stroke="#000" stroke-width="1.2" stroke-linejoin="round" stroke-linecap="round" /><path d="M771.2,156.2 A5,1.4 0 0 0 781.2,156.2" fill="none" stroke="#000" stroke-width="1.2" stroke-linejoin="round" stroke-linecap="round" /></g>
</svg>
</body></html>
